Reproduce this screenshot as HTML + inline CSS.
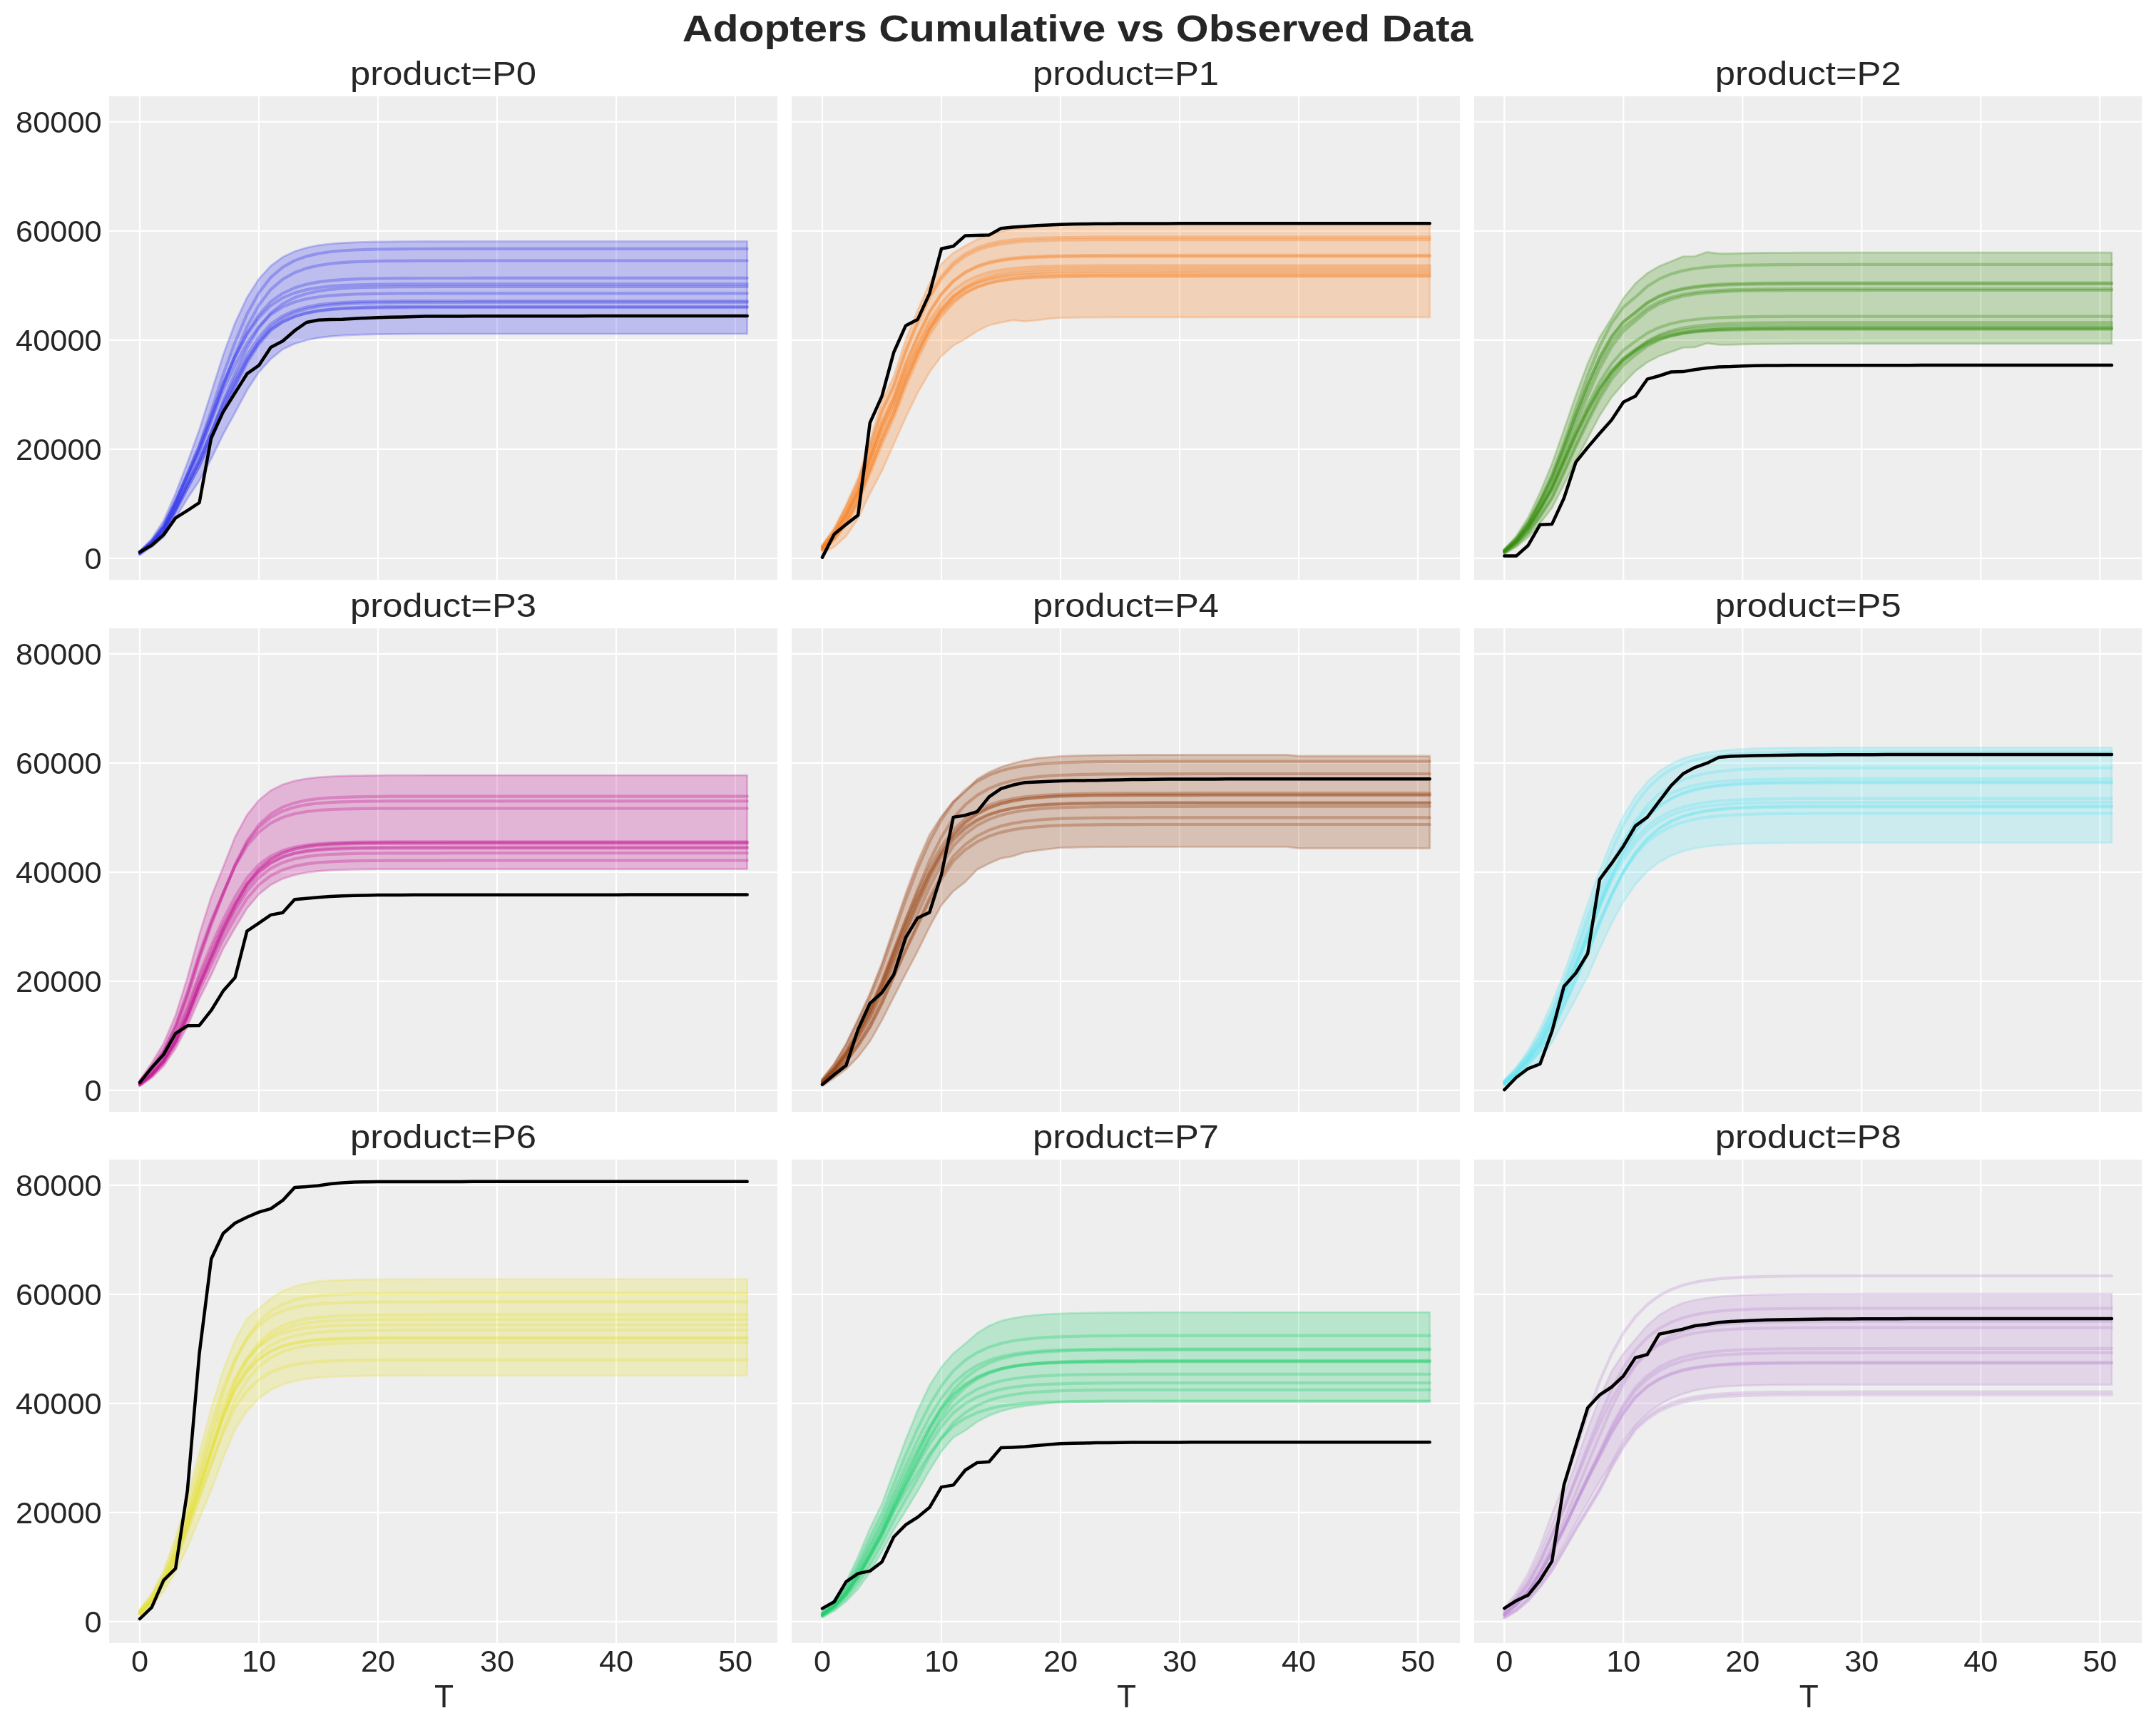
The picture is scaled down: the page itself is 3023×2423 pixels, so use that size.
<!DOCTYPE html>
<html lang="en">
<head>
<meta charset="utf-8">
<title>Adopters Cumulative vs Observed Data</title>
<style>
html,body{margin:0;padding:0;background:#ffffff;}
body{width:3023px;height:2423px;overflow:hidden;}
svg{display:block;}
text{font-family:"Liberation Sans",sans-serif;fill:#262626;}
.g{stroke:#ffffff;stroke-width:2.2;fill:none;}
.k{stroke:#000000;stroke-width:4.5;fill:none;stroke-linejoin:round;stroke-linecap:round;}
.s{fill:none;stroke-width:4.17;stroke-linejoin:round;stroke-linecap:round;}
.tk{font-size:42px;}
.tt{font-size:47.1px;}
.lb{font-size:44.3px;}
.st{font-size:51px;font-weight:bold;}
</style>
</head>
<body>
<svg width="3023" height="2423" viewBox="0 0 3023 2423">
<rect x="0" y="0" width="3023" height="2423" fill="#ffffff"/>
<!-- panel P0 -->
<svg x="153" y="135" width="937" height="678" viewBox="153 135 937 678">
<rect x="153" y="135" width="937" height="678" fill="#eeeeee"/>
<path class="g" d="M196 135V813M363 135V813M530 135V813M697 135V813M864 135V813M1031 135V813M153 782.9H1090M153 629.9H1090M153 476.9H1090M153 323.9H1090M153 170.9H1090"/>
<polygon points="196,772.4 212.7,755.6 229.4,730.1 246.1,692 262.8,648.7 279.5,602.6 296.2,550.1 312.9,498 329.6,452.9 346.3,417.3 363,391.1 379.7,372.8 396.4,360.5 413.1,352.5 429.8,347.3 446.5,344 463.2,341.9 479.9,340.6 496.6,339.8 513.3,339.3 530,339 546.7,338.8 563.4,338.6 580.1,338.6 596.8,338.5 613.5,338.5 630.2,338.5 646.9,338.5 663.6,338.4 680.3,338.4 697,338.4 713.7,338.4 730.4,338.4 747.1,338.4 763.8,338.4 780.5,338.4 797.2,338.4 813.9,338.4 830.6,338.4 847.3,338.4 864,338.4 880.7,338.4 897.4,338.4 914.1,338.4 930.8,338.4 947.5,338.4 964.2,338.4 980.9,338.4 997.6,338.4 1014.3,338.4 1031,338.4 1047.7,338.4 1047.7,468.1 1031,468.1 1014.3,468.1 997.6,468.1 980.9,468.1 964.2,468.1 947.5,468.1 930.8,468.1 914.1,468.1 897.4,468.1 880.7,468.1 864,468.1 847.3,468.1 830.6,468.1 813.9,468.1 797.2,468.1 780.5,468.1 763.8,468.1 747.1,468.1 730.4,468.1 713.7,468.1 697,468.1 680.3,468.1 663.6,468.1 646.9,468.1 630.2,468.1 613.5,468.2 596.8,468.2 580.1,468.2 563.4,468.3 546.7,468.5 530,468.7 513.3,469 496.6,469.5 479.9,470.3 463.2,471.7 446.5,473.7 429.8,477 413.1,482 396.4,489.7 379.7,503.3 363,521.7 346.3,547.3 329.6,578.6 312.9,609 296.2,643.3 279.5,674 262.8,698.9 246.1,726.6 229.4,753.1 212.7,766.9 196,778.1" fill="#2a2eec" fill-opacity="0.25" stroke="#2a2eec" stroke-opacity="0.25" stroke-width="2.8" stroke-linejoin="miter"/>
<g class="s" stroke="#2a2eec" stroke-opacity="0.3">
<polyline points="196,774.3 212.7,759.5 229.4,737.8 246.1,703.4 262.8,664.7 279.5,624.2 296.2,576.1 312.9,525.4 329.6,479.8 346.3,440.6 363,410.5 379.7,388.9 396.4,374.8 413.1,365.4 429.8,359.4 446.5,355.5 463.2,353 479.9,351.5 496.6,350.5 513.3,349.9 530,349.5 546.7,349.3 563.4,349.1 580.1,349 596.8,349 613.5,348.9 630.2,348.9 646.9,348.9 663.6,348.9 680.3,348.9 697,348.9 713.7,348.9 730.4,348.9 747.1,348.9 763.8,348.9 780.5,348.9 797.2,348.9 813.9,348.9 830.6,348.9 847.3,348.9 864,348.9 880.7,348.9 897.4,348.9 914.1,348.9 930.8,348.9 947.5,348.9 964.2,348.9 980.9,348.9 997.6,348.9 1014.3,348.9 1031,348.9 1047.7,348.9"/>
<polyline points="196,775.1 212.7,761.1 229.4,741.2 246.1,708.4 262.8,671.9 279.5,634.4 296.2,589.3 312.9,540.9 329.6,497.1 346.3,458.1 363,427.9 379.7,405.8 396.4,391.6 413.1,382.2 429.8,376.1 446.5,372.2 463.2,369.7 479.9,368.2 496.6,367.2 513.3,366.6 530,366.2 546.7,365.9 563.4,365.8 580.1,365.7 596.8,365.6 613.5,365.6 630.2,365.6 646.9,365.6 663.6,365.5 680.3,365.5 697,365.5 713.7,365.5 730.4,365.5 747.1,365.5 763.8,365.5 780.5,365.5 797.2,365.5 813.9,365.5 830.6,365.5 847.3,365.5 864,365.5 880.7,365.5 897.4,365.5 914.1,365.5 930.8,365.5 947.5,365.5 964.2,365.5 980.9,365.5 997.6,365.5 1014.3,365.5 1031,365.5 1047.7,365.5"/>
<polyline points="196,774.4 212.7,759.7 229.4,738.4 246.1,704.5 262.8,666.9 279.5,628.6 296.2,584.4 312.9,539.4 329.6,500.4 346.3,467 363,441.5 379.7,422.9 396.4,411.3 413.1,403.6 429.8,398.6 446.5,395.4 463.2,393.4 479.9,392.1 496.6,391.3 513.3,390.8 530,390.5 546.7,390.3 563.4,390.1 580.1,390.1 596.8,390 613.5,390 630.2,390 646.9,390 663.6,389.9 680.3,389.9 697,389.9 713.7,389.9 730.4,389.9 747.1,389.9 763.8,389.9 780.5,389.9 797.2,389.9 813.9,389.9 830.6,389.9 847.3,389.9 864,389.9 880.7,389.9 897.4,389.9 914.1,389.9 930.8,389.9 947.5,389.9 964.2,389.9 980.9,389.9 997.6,389.9 1014.3,389.9 1031,389.9 1047.7,389.9"/>
<polyline points="196,774.1 212.7,759 229.4,737 246.1,702.6 262.8,664.4 279.5,625.6 296.2,581.5 312.9,537.6 329.6,500.4 346.3,469.1 363,445.5 379.7,428.4 396.4,417.7 413.1,410.7 429.8,406.1 446.5,403.2 463.2,401.4 479.9,400.2 496.6,399.5 513.3,399 530,398.7 546.7,398.6 563.4,398.4 580.1,398.4 596.8,398.3 613.5,398.3 630.2,398.3 646.9,398.3 663.6,398.3 680.3,398.3 697,398.3 713.7,398.3 730.4,398.3 747.1,398.3 763.8,398.3 780.5,398.3 797.2,398.3 813.9,398.3 830.6,398.3 847.3,398.3 864,398.3 880.7,398.3 897.4,398.3 914.1,398.3 930.8,398.3 947.5,398.3 964.2,398.3 980.9,398.3 997.6,398.3 1014.3,398.3 1031,398.3 1047.7,398.3"/>
<polyline points="196,775.9 212.7,762.7 229.4,744.5 246.1,713.6 262.8,679.7 279.5,646 296.2,605.6 312.9,562.3 329.6,523.4 346.3,487.7 363,459.7 379.7,438.8 396.4,425.8 413.1,417.3 429.8,411.7 446.5,408.1 463.2,405.8 479.9,404.4 496.6,403.5 513.3,402.9 530,402.6 546.7,402.3 563.4,402.2 580.1,402.1 596.8,402.1 613.5,402 630.2,402 646.9,402 663.6,402 680.3,402 697,402 713.7,402 730.4,402 747.1,402 763.8,402 780.5,402 797.2,402 813.9,402 830.6,402 847.3,402 864,402 880.7,402 897.4,402 914.1,402 930.8,402 947.5,402 964.2,402 980.9,402 997.6,402 1014.3,402 1031,402 1047.7,402"/>
<polyline points="196,774.5 212.7,759.9 229.4,738.9 246.1,705.4 262.8,668.5 279.5,631.6 296.2,589.5 312.9,547.4 329.6,511.8 346.3,481.2 363,458 379.7,440.9 396.4,430.4 413.1,423.5 429.8,419.1 446.5,416.2 463.2,414.4 479.9,413.3 496.6,412.5 513.3,412.1 530,411.8 546.7,411.6 563.4,411.5 580.1,411.4 596.8,411.4 613.5,411.4 630.2,411.4 646.9,411.3 663.6,411.3 680.3,411.3 697,411.3 713.7,411.3 730.4,411.3 747.1,411.3 763.8,411.3 780.5,411.3 797.2,411.3 813.9,411.3 830.6,411.3 847.3,411.3 864,411.3 880.7,411.3 897.4,411.3 914.1,411.3 930.8,411.3 947.5,411.3 964.2,411.3 980.9,411.3 997.6,411.3 1014.3,411.3 1031,411.3 1047.7,411.3"/>
<polyline points="196,775.7 212.7,762.3 229.4,743.6 246.1,712.4 262.8,678.4 279.5,645.1 296.2,606.1 312.9,565.5 329.6,530.2 346.3,498.1 363,473 379.7,454.2 396.4,442.9 413.1,435.4 429.8,430.5 446.5,427.4 463.2,425.4 479.9,424.1 496.6,423.3 513.3,422.8 530,422.5 546.7,422.3 563.4,422.2 580.1,422.1 596.8,422.1 613.5,422 630.2,422 646.9,422 663.6,422 680.3,422 697,422 713.7,422 730.4,422 747.1,422 763.8,422 780.5,422 797.2,422 813.9,422 830.6,422 847.3,422 864,422 880.7,422 897.4,422 914.1,422 930.8,422 947.5,422 964.2,422 980.9,422 997.6,422 1014.3,422 1031,422 1047.7,422"/>
<polyline points="196,776.5 212.7,763.7 229.4,746.5 246.1,716.8 262.8,684.5 279.5,653.2 296.2,615.7 312.9,575.3 329.6,539.5 346.3,505.7 363,478.9 379.7,458.7 396.4,446.5 413.1,438.4 429.8,433.2 446.5,429.8 463.2,427.6 479.9,426.3 496.6,425.4 513.3,424.8 530,424.5 546.7,424.3 563.4,424.2 580.1,424.1 596.8,424 613.5,424 630.2,424 646.9,424 663.6,423.9 680.3,423.9 697,423.9 713.7,423.9 730.4,423.9 747.1,423.9 763.8,423.9 780.5,423.9 797.2,423.9 813.9,423.9 830.6,423.9 847.3,423.9 864,423.9 880.7,423.9 897.4,423.9 914.1,423.9 930.8,423.9 947.5,423.9 964.2,423.9 980.9,423.9 997.6,423.9 1014.3,423.9 1031,423.9 1047.7,423.9"/>
<polyline points="196,776.4 212.7,763.6 229.4,746.4 246.1,716.5 262.8,684.3 279.5,653.1 296.2,616.1 312.9,576.5 329.6,541.7 346.3,509 363,483 379.7,463.4 396.4,451.6 413.1,443.8 429.8,438.8 446.5,435.5 463.2,433.4 479.9,432.1 496.6,431.3 513.3,430.7 530,430.4 546.7,430.2 563.4,430.1 580.1,430 596.8,429.9 613.5,429.9 630.2,429.9 646.9,429.9 663.6,429.9 680.3,429.9 697,429.9 713.7,429.9 730.4,429.9 747.1,429.9 763.8,429.9 780.5,429.9 797.2,429.9 813.9,429.9 830.6,429.9 847.3,429.9 864,429.9 880.7,429.9 897.4,429.9 914.1,429.9 930.8,429.9 947.5,429.9 964.2,429.9 980.9,429.9 997.6,429.9 1014.3,429.9 1031,429.9 1047.7,429.9"/>
<polyline points="196,775.7 212.7,762.3 229.4,743.7 246.1,712.7 262.8,678.9 279.5,646.1 296.2,608 312.9,568.6 329.6,534.7 346.3,503.9 363,479.8 379.7,461.7 396.4,450.9 413.1,443.8 429.8,439.1 446.5,436.1 463.2,434.2 479.9,433 496.6,432.3 513.3,431.8 530,431.5 546.7,431.3 563.4,431.2 580.1,431.1 596.8,431.1 613.5,431 630.2,431 646.9,431 663.6,431 680.3,431 697,431 713.7,431 730.4,431 747.1,431 763.8,431 780.5,431 797.2,431 813.9,431 830.6,431 847.3,431 864,431 880.7,431 897.4,431 914.1,431 930.8,431 947.5,431 964.2,431 980.9,431 997.6,431 1014.3,431 1031,431 1047.7,431"/>
</g>
<polyline class="k" points="196,773.9 212.7,764.8 229.4,749.9 246.1,726.4 262.8,715.8 279.5,704.8 296.2,613.7 312.9,577.6 329.6,550.9 346.3,524.2 363,512.4 379.7,486.9 396.4,478.3 413.1,463.7 429.8,452 446.5,448.8 463.2,448.1 479.9,447.8 496.6,446.7 513.3,445.9 530,445.3 546.7,444.8 563.4,444.4 580.1,444 596.8,443.6 613.5,443.5 630.2,443.4 646.9,443.4 663.6,443.3 680.3,443.3 697,443.2 713.7,443.2 730.4,443.2 747.1,443.2 763.8,443.2 780.5,443.2 797.2,443.2 813.9,443.2 830.6,443.1 847.3,443.1 864,443.1 880.7,443.1 897.4,443.1 914.1,443.1 930.8,443.1 947.5,443.1 964.2,443.1 980.9,443.1 997.6,443.1 1014.3,443.1 1031,443.1 1047.7,443.1"/>
</svg>
<!-- panel P1 -->
<svg x="1110" y="135" width="937" height="678" viewBox="1110 135 937 678">
<rect x="1110" y="135" width="937" height="678" fill="#eeeeee"/>
<path class="g" d="M1153 135V813M1320 135V813M1487 135V813M1654 135V813M1821 135V813M1988 135V813M1110 782.9H2047M1110 629.9H2047M1110 476.9H2047M1110 323.9H2047M1110 170.9H2047"/>
<polygon points="1153,764.2 1169.7,740.6 1186.4,707.1 1203.1,670 1219.8,617.2 1236.5,562.7 1253.2,527.7 1269.9,476.6 1286.6,435.1 1303.3,397.5 1320,369.8 1336.7,354.5 1353.4,344.7 1370.1,335.5 1386.8,329.2 1403.5,324.4 1420.2,321.3 1436.9,319 1453.6,317.2 1470.3,315.9 1487,314.9 1503.7,314.7 1520.4,314.6 1537.1,314.5 1553.8,314.4 1570.5,314.4 1587.2,314.4 1603.9,314.4 1620.6,314.4 1637.3,314.3 1654,314.3 1670.7,314.3 1687.4,314.3 1704.1,314.3 1720.8,314.3 1737.5,314.3 1754.2,314.3 1770.9,314.3 1787.6,314.3 1804.3,314.3 1821,314.3 1837.7,314.3 1854.4,314.3 1871.1,314.3 1887.8,314.3 1904.5,314.3 1921.2,314.3 1937.9,314.3 1954.6,314.3 1971.3,314.3 1988,314.3 2004.7,314.3 2004.7,444.8 1988,444.8 1971.3,444.8 1954.6,444.8 1937.9,444.8 1921.2,444.8 1904.5,444.8 1887.8,444.8 1871.1,444.8 1854.4,444.8 1837.7,444.8 1821,444.8 1804.3,444.8 1787.6,444.8 1770.9,444.8 1754.2,444.8 1737.5,444.8 1720.8,444.8 1704.1,444.8 1687.4,444.9 1670.7,444.9 1654,444.9 1637.3,444.9 1620.6,444.9 1603.9,444.9 1587.2,444.9 1570.5,444.9 1553.8,445 1537.1,445.1 1520.4,445.2 1503.7,445.4 1487,445.7 1470.3,446.9 1453.6,449.2 1436.9,450.7 1420.2,448.9 1403.5,452.2 1386.8,456 1370.1,464.2 1353.4,475.4 1336.7,484.6 1320,499.2 1303.3,522 1286.6,551 1269.9,585.5 1253.2,623 1236.5,660.5 1219.8,692.1 1203.1,727 1186.4,751.9 1169.7,766.8 1153,776.3" fill="#fa7c17" fill-opacity="0.25" stroke="#fa7c17" stroke-opacity="0.25" stroke-width="2.8" stroke-linejoin="miter"/>
<g class="s" stroke="#fa7c17" stroke-opacity="0.3">
<polyline points="1153,765.7 1169.7,743.8 1186.4,712.5 1203.1,677 1219.8,626.4 1236.5,574.9 1253.2,539.7 1269.9,490.6 1286.6,450.2 1303.3,414.1 1320,387.3 1336.7,368.5 1353.4,355.8 1370.1,347.5 1386.8,342.1 1403.5,338.6 1420.2,336.4 1436.9,335 1453.6,334.1 1470.3,333.5 1487,333.2 1503.7,333 1520.4,332.8 1537.1,332.7 1553.8,332.7 1570.5,332.6 1587.2,332.6 1603.9,332.6 1620.6,332.6 1637.3,332.6 1654,332.6 1670.7,332.6 1687.4,332.6 1704.1,332.6 1720.8,332.6 1737.5,332.6 1754.2,332.6 1770.9,332.6 1787.6,332.6 1804.3,332.6 1821,332.6 1837.7,332.6 1854.4,332.6 1871.1,332.6 1887.8,332.6 1904.5,332.6 1921.2,332.6 1937.9,332.6 1954.6,332.6 1971.3,332.6 1988,332.6 2004.7,332.6"/>
<polyline points="1153,766.1 1169.7,744.6 1186.4,714 1203.1,678.9 1219.8,628.8 1236.5,578 1253.2,542.7 1269.9,493.9 1286.6,453.7 1303.3,417.6 1320,390.9 1336.7,372.2 1353.4,359.5 1370.1,351.1 1386.8,345.6 1403.5,342.1 1420.2,339.9 1436.9,338.5 1453.6,337.6 1470.3,337 1487,336.7 1503.7,336.4 1520.4,336.3 1537.1,336.2 1553.8,336.2 1570.5,336.1 1587.2,336.1 1603.9,336.1 1620.6,336.1 1637.3,336.1 1654,336.1 1670.7,336.1 1687.4,336.1 1704.1,336.1 1720.8,336.1 1737.5,336.1 1754.2,336.1 1770.9,336.1 1787.6,336.1 1804.3,336.1 1821,336.1 1837.7,336.1 1854.4,336.1 1871.1,336.1 1887.8,336.1 1904.5,336.1 1921.2,336.1 1937.9,336.1 1954.6,336.1 1971.3,336.1 1988,336.1 2004.7,336.1"/>
<polyline points="1153,767.9 1169.7,748.6 1186.4,720.9 1203.1,687.6 1219.8,640.3 1236.5,593.2 1253.2,557.6 1269.9,511.1 1286.6,472.2 1303.3,437.8 1320,412.1 1336.7,393.8 1353.4,381.4 1370.1,373.1 1386.8,367.6 1403.5,364.1 1420.2,361.9 1436.9,360.4 1453.6,359.5 1470.3,358.9 1487,358.5 1503.7,358.3 1520.4,358.1 1537.1,358 1553.8,358 1570.5,357.9 1587.2,357.9 1603.9,357.9 1620.6,357.9 1637.3,357.9 1654,357.9 1670.7,357.9 1687.4,357.9 1704.1,357.9 1720.8,357.9 1737.5,357.9 1754.2,357.9 1770.9,357.9 1787.6,357.9 1804.3,357.9 1821,357.9 1837.7,357.9 1854.4,357.9 1871.1,357.9 1887.8,357.9 1904.5,357.9 1921.2,357.9 1937.9,357.9 1954.6,357.9 1971.3,357.9 1988,357.9 2004.7,357.9"/>
<polyline points="1153,767.7 1169.7,748.1 1186.4,719.9 1203.1,686.4 1219.8,638.9 1236.5,591.6 1253.2,556.3 1269.9,510.1 1286.6,471.7 1303.3,437.7 1320,412.5 1336.7,394.6 1353.4,382.4 1370.1,374.3 1386.8,369 1403.5,365.5 1420.2,363.3 1436.9,361.9 1453.6,361 1470.3,360.4 1487,360 1503.7,359.8 1520.4,359.7 1537.1,359.6 1553.8,359.5 1570.5,359.5 1587.2,359.4 1603.9,359.4 1620.6,359.4 1637.3,359.4 1654,359.4 1670.7,359.4 1687.4,359.4 1704.1,359.4 1720.8,359.4 1737.5,359.4 1754.2,359.4 1770.9,359.4 1787.6,359.4 1804.3,359.4 1821,359.4 1837.7,359.4 1854.4,359.4 1871.1,359.4 1887.8,359.4 1904.5,359.4 1921.2,359.4 1937.9,359.4 1954.6,359.4 1971.3,359.4 1988,359.4 2004.7,359.4"/>
<polyline points="1153,768.6 1169.7,750.2 1186.4,723.5 1203.1,691 1219.8,645.1 1236.5,599.8 1253.2,564.5 1269.9,519.7 1286.6,482.2 1303.3,449.3 1320,424.8 1336.7,407.3 1353.4,395.4 1370.1,387.4 1386.8,382.1 1403.5,378.7 1420.2,376.5 1436.9,375 1453.6,374.1 1470.3,373.6 1487,373.2 1503.7,372.9 1520.4,372.8 1537.1,372.7 1553.8,372.6 1570.5,372.6 1587.2,372.6 1603.9,372.5 1620.6,372.5 1637.3,372.5 1654,372.5 1670.7,372.5 1687.4,372.5 1704.1,372.5 1720.8,372.5 1737.5,372.5 1754.2,372.5 1770.9,372.5 1787.6,372.5 1804.3,372.5 1821,372.5 1837.7,372.5 1854.4,372.5 1871.1,372.5 1887.8,372.5 1904.5,372.5 1921.2,372.5 1937.9,372.5 1954.6,372.5 1971.3,372.5 1988,372.5 2004.7,372.5"/>
<polyline points="1153,770.9 1169.7,755 1186.4,731.8 1203.1,701.3 1219.8,658 1236.5,615.4 1253.2,578.4 1269.9,533.4 1286.6,494.5 1303.3,460.1 1320,433.8 1336.7,414.8 1353.4,401.7 1370.1,392.8 1386.8,387 1403.5,383.1 1420.2,380.7 1436.9,379.1 1453.6,378 1470.3,377.4 1487,377 1503.7,376.7 1520.4,376.5 1537.1,376.4 1553.8,376.3 1570.5,376.3 1587.2,376.3 1603.9,376.3 1620.6,376.2 1637.3,376.2 1654,376.2 1670.7,376.2 1687.4,376.2 1704.1,376.2 1720.8,376.2 1737.5,376.2 1754.2,376.2 1770.9,376.2 1787.6,376.2 1804.3,376.2 1821,376.2 1837.7,376.2 1854.4,376.2 1871.1,376.2 1887.8,376.2 1904.5,376.2 1921.2,376.2 1937.9,376.2 1954.6,376.2 1971.3,376.2 1988,376.2 2004.7,376.2"/>
<polyline points="1153,770.9 1169.7,755.1 1186.4,731.9 1203.1,701.6 1219.8,658.4 1236.5,616.1 1253.2,579.3 1269.9,534.8 1286.6,496.3 1303.3,462.3 1320,436.5 1336.7,417.8 1353.4,404.9 1370.1,396.1 1386.8,390.4 1403.5,386.6 1420.2,384.2 1436.9,382.6 1453.6,381.6 1470.3,380.9 1487,380.5 1503.7,380.2 1520.4,380.1 1537.1,379.9 1553.8,379.9 1570.5,379.8 1587.2,379.8 1603.9,379.8 1620.6,379.8 1637.3,379.8 1654,379.8 1670.7,379.8 1687.4,379.7 1704.1,379.7 1720.8,379.7 1737.5,379.7 1754.2,379.7 1770.9,379.7 1787.6,379.7 1804.3,379.7 1821,379.7 1837.7,379.7 1854.4,379.7 1871.1,379.7 1887.8,379.7 1904.5,379.7 1921.2,379.7 1937.9,379.7 1954.6,379.7 1971.3,379.7 1988,379.7 2004.7,379.7"/>
<polyline points="1153,768.4 1169.7,749.7 1186.4,722.7 1203.1,690.1 1219.8,644.3 1236.5,599.5 1253.2,565 1269.9,521.7 1286.6,485.7 1303.3,454.7 1320,431.7 1336.7,415.5 1353.4,404.4 1370.1,396.9 1386.8,392 1403.5,388.8 1420.2,386.7 1436.9,385.3 1453.6,384.5 1470.3,383.9 1487,383.6 1503.7,383.3 1520.4,383.2 1537.1,383.1 1553.8,383 1570.5,383 1587.2,383 1603.9,383 1620.6,383 1637.3,382.9 1654,382.9 1670.7,382.9 1687.4,382.9 1704.1,382.9 1720.8,382.9 1737.5,382.9 1754.2,382.9 1770.9,382.9 1787.6,382.9 1804.3,382.9 1821,382.9 1837.7,382.9 1854.4,382.9 1871.1,382.9 1887.8,382.9 1904.5,382.9 1921.2,382.9 1937.9,382.9 1954.6,382.9 1971.3,382.9 1988,382.9 2004.7,382.9"/>
<polyline points="1153,771.8 1169.7,757 1186.4,735.1 1203.1,705.5 1219.8,663.5 1236.5,622.6 1253.2,585.4 1269.9,541.4 1286.6,503 1303.3,469.2 1320,443.3 1336.7,424.5 1353.4,411.4 1370.1,402.6 1386.8,396.7 1403.5,392.9 1420.2,390.4 1436.9,388.7 1453.6,387.7 1470.3,387 1487,386.6 1503.7,386.3 1520.4,386.1 1537.1,386 1553.8,386 1570.5,385.9 1587.2,385.9 1603.9,385.9 1620.6,385.8 1637.3,385.8 1654,385.8 1670.7,385.8 1687.4,385.8 1704.1,385.8 1720.8,385.8 1737.5,385.8 1754.2,385.8 1770.9,385.8 1787.6,385.8 1804.3,385.8 1821,385.8 1837.7,385.8 1854.4,385.8 1871.1,385.8 1887.8,385.8 1904.5,385.8 1921.2,385.8 1937.9,385.8 1954.6,385.8 1971.3,385.8 1988,385.8 2004.7,385.8"/>
<polyline points="1153,769.5 1169.7,752 1186.4,726.7 1203.1,695.1 1219.8,650.7 1236.5,607.4 1253.2,572.3 1269.9,529.2 1286.6,493 1303.3,461.6 1320,438.2 1336.7,421.4 1353.4,409.9 1370.1,402.2 1386.8,397 1403.5,393.7 1420.2,391.5 1436.9,390.1 1453.6,389.2 1470.3,388.6 1487,388.2 1503.7,388 1520.4,387.8 1537.1,387.7 1553.8,387.7 1570.5,387.6 1587.2,387.6 1603.9,387.6 1620.6,387.6 1637.3,387.6 1654,387.6 1670.7,387.6 1687.4,387.6 1704.1,387.6 1720.8,387.6 1737.5,387.6 1754.2,387.6 1770.9,387.6 1787.6,387.6 1804.3,387.6 1821,387.6 1837.7,387.6 1854.4,387.6 1871.1,387.6 1887.8,387.6 1904.5,387.6 1921.2,387.6 1937.9,387.6 1954.6,387.6 1971.3,387.6 1988,387.6 2004.7,387.6"/>
</g>
<polyline class="k" points="1153,781.6 1169.7,749 1186.4,735.3 1203.1,722.4 1219.8,592.9 1236.5,555.6 1253.2,494 1269.9,456.7 1286.6,448.1 1303.3,411.6 1320,348.8 1336.7,345.3 1353.4,330.4 1370.1,330 1386.8,329.6 1403.5,320.2 1420.2,318.6 1436.9,317.4 1453.6,316.2 1470.3,315.5 1487,314.7 1503.7,314.3 1520.4,314 1537.1,313.8 1553.8,313.7 1570.5,313.6 1587.2,313.5 1603.9,313.5 1620.6,313.4 1637.3,313.4 1654,313.3 1670.7,313.3 1687.4,313.3 1704.1,313.3 1720.8,313.3 1737.5,313.3 1754.2,313.3 1770.9,313.3 1787.6,313.3 1804.3,313.3 1821,313.3 1837.7,313.3 1854.4,313.3 1871.1,313.3 1887.8,313.3 1904.5,313.3 1921.2,313.3 1937.9,313.3 1954.6,313.3 1971.3,313.3 1988,313.3 2004.7,313.3"/>
</svg>
<!-- panel P2 -->
<svg x="2067" y="135" width="936.5" height="678" viewBox="2067 135 936.5 678">
<rect x="2067" y="135" width="936.5" height="678" fill="#eeeeee"/>
<path class="g" d="M2109.3 135V813M2276.3 135V813M2443.3 135V813M2610.3 135V813M2777.3 135V813M2944.3 135V813M2067 782.9H3003.5M2067 629.9H3003.5M2067 476.9H3003.5M2067 323.9H3003.5M2067 170.9H3003.5"/>
<polygon points="2109.3,769.8 2126,751.6 2142.7,725.6 2159.4,690.5 2176.1,650.3 2192.8,602.8 2209.5,554.4 2226.2,509.6 2242.9,472.8 2259.6,446.2 2276.3,418.1 2293,397.5 2309.7,383.1 2326.4,373.2 2343.1,366.6 2359.8,359.6 2376.5,359.4 2393.2,353.5 2409.9,355.5 2426.6,355.5 2443.3,355 2460,354.7 2476.7,354.5 2493.4,354.4 2510.1,354.3 2526.8,354.2 2543.5,354.2 2560.2,354.2 2576.9,354.1 2593.6,354.1 2610.3,354.1 2627,354.1 2643.7,354.1 2660.4,354.1 2677.1,354.1 2693.8,354.1 2710.5,354.1 2727.2,354.1 2743.9,354.1 2760.6,354.1 2777.3,354.1 2794,354.1 2810.7,354.1 2827.4,354.1 2844.1,354.1 2860.8,354.1 2877.5,354.1 2894.2,354.1 2910.9,354.1 2927.6,354.1 2944.3,354.1 2961,354.1 2961,482 2944.3,482 2927.6,482 2910.9,482 2894.2,482 2877.5,482 2860.8,482 2844.1,482 2827.4,482 2810.7,482 2794,482 2777.3,482 2760.6,482 2743.9,482 2727.2,482 2710.5,482 2693.8,482 2677.1,482 2660.4,482 2643.7,482 2627,482 2610.3,482 2593.6,482 2576.9,482.1 2560.2,482.1 2543.5,482.1 2526.8,482.1 2510.1,482.2 2493.4,482.3 2476.7,482.4 2460,482.6 2443.3,482.9 2426.6,483.4 2409.9,483.4 2393.2,481.4 2376.5,486.9 2359.8,487.4 2343.1,493.4 2326.4,499.3 2309.7,508 2293,520.4 2276.3,537.7 2259.6,557.1 2242.9,582.9 2226.2,614.6 2209.5,646 2192.8,679.7 2176.1,712.3 2159.4,733.6 2142.7,753.1 2126,767 2109.3,776.8" fill="#328c06" fill-opacity="0.25" stroke="#328c06" stroke-opacity="0.25" stroke-width="2.8" stroke-linejoin="miter"/>
<g class="s" stroke="#328c06" stroke-opacity="0.3">
<polyline points="2109.3,771.5 2126,755.4 2142.7,732.3 2159.4,700.9 2176.1,665 2192.8,620.4 2209.5,572.6 2226.2,526.6 2242.9,485.6 2259.6,453.3 2276.3,430.7 2293,416.7 2309.7,401.6 2326.4,391.2 2343.1,384.2 2359.8,379.6 2376.5,376.5 2393.2,374.6 2409.9,373.3 2426.6,372.4 2443.3,371.9 2460,371.6 2476.7,371.3 2493.4,371.2 2510.1,371.1 2526.8,371 2543.5,371 2560.2,371 2576.9,371 2593.6,370.9 2610.3,370.9 2627,370.9 2643.7,370.9 2660.4,370.9 2677.1,370.9 2693.8,370.9 2710.5,370.9 2727.2,370.9 2743.9,370.9 2760.6,370.9 2777.3,370.9 2794,370.9 2810.7,370.9 2827.4,370.9 2844.1,370.9 2860.8,370.9 2877.5,370.9 2894.2,370.9 2910.9,370.9 2927.6,370.9 2944.3,370.9 2961,370.9"/>
<polyline points="2109.3,772 2126,756.5 2142.7,734.3 2159.4,704.2 2176.1,670 2192.8,627.3 2209.5,582.2 2226.2,539.7 2242.9,501.9 2259.6,472.2 2276.3,451.1 2293,437.9 2309.7,424.2 2326.4,414.9 2343.1,408.6 2359.8,404.4 2376.5,401.7 2393.2,399.9 2409.9,398.7 2426.6,397.9 2443.3,397.5 2460,397.1 2476.7,396.9 2493.4,396.8 2510.1,396.7 2526.8,396.7 2543.5,396.6 2560.2,396.6 2576.9,396.6 2593.6,396.6 2610.3,396.6 2627,396.6 2643.7,396.6 2660.4,396.6 2677.1,396.6 2693.8,396.6 2710.5,396.6 2727.2,396.6 2743.9,396.6 2760.6,396.6 2777.3,396.6 2794,396.6 2810.7,396.6 2827.4,396.6 2844.1,396.6 2860.8,396.6 2877.5,396.6 2894.2,396.6 2910.9,396.6 2927.6,396.6 2944.3,396.6 2961,396.6"/>
<polyline points="2109.3,771.8 2126,756.2 2142.7,733.7 2159.4,703.3 2176.1,668.8 2192.8,626 2209.5,581 2226.2,538.6 2242.9,501.3 2259.6,472.1 2276.3,451.4 2293,438.5 2309.7,425.1 2326.4,416 2343.1,409.8 2359.8,405.7 2376.5,403.1 2393.2,401.3 2409.9,400.2 2426.6,399.4 2443.3,399 2460,398.7 2476.7,398.5 2493.4,398.3 2510.1,398.3 2526.8,398.2 2543.5,398.2 2560.2,398.1 2576.9,398.1 2593.6,398.1 2610.3,398.1 2627,398.1 2643.7,398.1 2660.4,398.1 2677.1,398.1 2693.8,398.1 2710.5,398.1 2727.2,398.1 2743.9,398.1 2760.6,398.1 2777.3,398.1 2794,398.1 2810.7,398.1 2827.4,398.1 2844.1,398.1 2860.8,398.1 2877.5,398.1 2894.2,398.1 2910.9,398.1 2927.6,398.1 2944.3,398.1 2961,398.1"/>
<polyline points="2109.3,772.3 2126,757.2 2142.7,735.6 2159.4,706.2 2176.1,673 2192.8,631.2 2209.5,587.1 2226.2,545.7 2242.9,508.7 2259.6,479.5 2276.3,458.8 2293,445.6 2309.7,432.2 2326.4,423 2343.1,416.8 2359.8,412.7 2376.5,410 2393.2,408.3 2409.9,407.2 2426.6,406.4 2443.3,405.9 2460,405.6 2476.7,405.4 2493.4,405.3 2510.1,405.2 2526.8,405.2 2543.5,405.1 2560.2,405.1 2576.9,405.1 2593.6,405.1 2610.3,405.1 2627,405.1 2643.7,405.1 2660.4,405.1 2677.1,405.1 2693.8,405.1 2710.5,405.1 2727.2,405.1 2743.9,405.1 2760.6,405.1 2777.3,405.1 2794,405.1 2810.7,405.1 2827.4,405.1 2844.1,405.1 2860.8,405.1 2877.5,405.1 2894.2,405.1 2910.9,405.1 2927.6,405.1 2944.3,405.1 2961,405.1"/>
<polyline points="2109.3,773.2 2126,759.1 2142.7,739 2159.4,711.4 2176.1,680.1 2192.8,639.4 2209.5,596.2 2226.2,554.9 2242.9,517 2259.6,486.5 2276.3,464.5 2293,450.3 2309.7,436.1 2326.4,426.3 2343.1,419.7 2359.8,415.3 2376.5,412.4 2393.2,410.5 2409.9,409.3 2426.6,408.5 2443.3,408 2460,407.6 2476.7,407.4 2493.4,407.3 2510.1,407.2 2526.8,407.1 2543.5,407.1 2560.2,407.1 2576.9,407.1 2593.6,407.1 2610.3,407.1 2627,407 2643.7,407 2660.4,407 2677.1,407 2693.8,407 2710.5,407 2727.2,407 2743.9,407 2760.6,407 2777.3,407 2794,407 2810.7,407 2827.4,407 2844.1,407 2860.8,407 2877.5,407 2894.2,407 2910.9,407 2927.6,407 2944.3,407 2961,407"/>
<polyline points="2109.3,773.4 2126,759.6 2142.7,739.9 2159.4,713.1 2176.1,683.3 2192.8,644.7 2209.5,605 2226.2,568.7 2242.9,536 2259.6,510.1 2276.3,491.2 2293,478.7 2309.7,467.1 2326.4,459.2 2343.1,453.8 2359.8,450.3 2376.5,448 2393.2,446.4 2409.9,445.4 2426.6,444.8 2443.3,444.4 2460,444.1 2476.7,443.9 2493.4,443.8 2510.1,443.7 2526.8,443.7 2543.5,443.7 2560.2,443.7 2576.9,443.6 2593.6,443.6 2610.3,443.6 2627,443.6 2643.7,443.6 2660.4,443.6 2677.1,443.6 2693.8,443.6 2710.5,443.6 2727.2,443.6 2743.9,443.6 2760.6,443.6 2777.3,443.6 2794,443.6 2810.7,443.6 2827.4,443.6 2844.1,443.6 2860.8,443.6 2877.5,443.6 2894.2,443.6 2910.9,443.6 2927.6,443.6 2944.3,443.6 2961,443.6"/>
<polyline points="2109.3,775 2126,763.1 2142.7,746.2 2159.4,722.8 2176.1,696.8 2192.8,660.6 2209.5,622.9 2226.2,587.6 2242.9,553.9 2259.6,526.2 2276.3,505.5 2293,491.4 2309.7,478.6 2326.4,469.8 2343.1,463.8 2359.8,459.8 2376.5,457.2 2393.2,455.5 2409.9,454.4 2426.6,453.6 2443.3,453.2 2460,452.9 2476.7,452.7 2493.4,452.5 2510.1,452.4 2526.8,452.4 2543.5,452.4 2560.2,452.3 2576.9,452.3 2593.6,452.3 2610.3,452.3 2627,452.3 2643.7,452.3 2660.4,452.3 2677.1,452.3 2693.8,452.3 2710.5,452.3 2727.2,452.3 2743.9,452.3 2760.6,452.3 2777.3,452.3 2794,452.3 2810.7,452.3 2827.4,452.3 2844.1,452.3 2860.8,452.3 2877.5,452.3 2894.2,452.3 2910.9,452.3 2927.6,452.3 2944.3,452.3 2961,452.3"/>
<polyline points="2109.3,773.8 2126,760.5 2142.7,741.5 2159.4,715.7 2176.1,687 2192.8,649.6 2209.5,611.5 2226.2,576.8 2242.9,545.5 2259.6,520.6 2276.3,502.4 2293,490 2309.7,479 2326.4,471.4 2343.1,466.3 2359.8,462.9 2376.5,460.7 2393.2,459.3 2409.9,458.3 2426.6,457.7 2443.3,457.3 2460,457.1 2476.7,456.9 2493.4,456.8 2510.1,456.7 2526.8,456.7 2543.5,456.6 2560.2,456.6 2576.9,456.6 2593.6,456.6 2610.3,456.6 2627,456.6 2643.7,456.6 2660.4,456.6 2677.1,456.6 2693.8,456.6 2710.5,456.6 2727.2,456.6 2743.9,456.6 2760.6,456.6 2777.3,456.6 2794,456.6 2810.7,456.6 2827.4,456.6 2844.1,456.6 2860.8,456.6 2877.5,456.6 2894.2,456.6 2910.9,456.6 2927.6,456.6 2944.3,456.6 2961,456.6"/>
<polyline points="2109.3,775.3 2126,763.6 2142.7,747.1 2159.4,724.3 2176.1,698.9 2192.8,663.4 2209.5,626.5 2226.2,592.2 2242.9,559.3 2259.6,532.2 2276.3,511.8 2293,497.8 2309.7,485.4 2326.4,476.7 2343.1,470.9 2359.8,467 2376.5,464.5 2393.2,462.8 2409.9,461.7 2426.6,461 2443.3,460.5 2460,460.2 2476.7,460 2493.4,459.9 2510.1,459.8 2526.8,459.8 2543.5,459.7 2560.2,459.7 2576.9,459.7 2593.6,459.7 2610.3,459.7 2627,459.7 2643.7,459.7 2660.4,459.7 2677.1,459.7 2693.8,459.7 2710.5,459.7 2727.2,459.7 2743.9,459.7 2760.6,459.7 2777.3,459.7 2794,459.7 2810.7,459.7 2827.4,459.7 2844.1,459.7 2860.8,459.7 2877.5,459.7 2894.2,459.7 2910.9,459.7 2927.6,459.7 2944.3,459.7 2961,459.7"/>
<polyline points="2109.3,773.4 2126,759.5 2142.7,739.8 2159.4,713.1 2176.1,683.5 2192.8,645.7 2209.5,607.6 2226.2,573.6 2242.9,543.5 2259.6,520 2276.3,502.9 2293,491.4 2309.7,481.2 2326.4,474.2 2343.1,469.5 2359.8,466.4 2376.5,464.4 2393.2,463.1 2409.9,462.2 2426.6,461.7 2443.3,461.3 2460,461.1 2476.7,460.9 2493.4,460.8 2510.1,460.7 2526.8,460.7 2543.5,460.7 2560.2,460.7 2576.9,460.6 2593.6,460.6 2610.3,460.6 2627,460.6 2643.7,460.6 2660.4,460.6 2677.1,460.6 2693.8,460.6 2710.5,460.6 2727.2,460.6 2743.9,460.6 2760.6,460.6 2777.3,460.6 2794,460.6 2810.7,460.6 2827.4,460.6 2844.1,460.6 2860.8,460.6 2877.5,460.6 2894.2,460.6 2910.9,460.6 2927.6,460.6 2944.3,460.6 2961,460.6"/>
<polyline points="2109.3,773.7 2126,760.2 2142.7,741 2159.4,715 2176.1,686.1 2192.8,648.8 2209.5,611 2226.2,577.1 2242.9,546.7 2259.6,522.7 2276.3,505.2 2293,493.3 2309.7,482.8 2326.4,475.6 2343.1,470.8 2359.8,467.6 2376.5,465.5 2393.2,464.1 2409.9,463.2 2426.6,462.7 2443.3,462.3 2460,462 2476.7,461.9 2493.4,461.8 2510.1,461.7 2526.8,461.7 2543.5,461.7 2560.2,461.6 2576.9,461.6 2593.6,461.6 2610.3,461.6 2627,461.6 2643.7,461.6 2660.4,461.6 2677.1,461.6 2693.8,461.6 2710.5,461.6 2727.2,461.6 2743.9,461.6 2760.6,461.6 2777.3,461.6 2794,461.6 2810.7,461.6 2827.4,461.6 2844.1,461.6 2860.8,461.6 2877.5,461.6 2894.2,461.6 2910.9,461.6 2927.6,461.6 2944.3,461.6 2961,461.6"/>
</g>
<polyline class="k" points="2109.3,779.6 2126,779.6 2142.7,764.7 2159.4,735.7 2176.1,734.9 2192.8,698.8 2209.5,648.2 2226.2,627.4 2242.9,607.8 2259.6,589 2276.3,563.8 2293,555.6 2309.7,531.7 2326.4,527 2343.1,521.5 2359.8,521.1 2376.5,518.3 2393.2,516 2409.9,514.4 2426.6,514 2443.3,513.2 2460,512.8 2476.7,512.4 2493.4,512.4 2510.1,512.3 2526.8,512.3 2543.5,512.2 2560.2,512.2 2576.9,512.2 2593.6,512.2 2610.3,512.2 2627,512.2 2643.7,512.2 2660.4,512.2 2677.1,512.2 2693.8,512.1 2710.5,512.1 2727.2,512.1 2743.9,512.1 2760.6,512.1 2777.3,512.1 2794,512.1 2810.7,512.1 2827.4,512.1 2844.1,512.1 2860.8,512.1 2877.5,512.1 2894.2,512.1 2910.9,512.1 2927.6,512.1 2944.3,512.1 2961,512.1"/>
</svg>
<!-- panel P3 -->
<svg x="153" y="881" width="937" height="678" viewBox="153 881 937 678">
<rect x="153" y="881" width="937" height="678" fill="#eeeeee"/>
<path class="g" d="M196 881V1559M363 881V1559M530 881V1559M697 881V1559M864 881V1559M1031 881V1559M153 1528.9H1090M153 1375.9H1090M153 1222.9H1090M153 1069.9H1090M153 916.9H1090"/>
<polygon points="196,1514.3 212.7,1490.6 229.4,1463.1 246.1,1423.9 262.8,1370.7 279.5,1310.1 296.2,1257.5 312.9,1216.1 329.6,1173.6 346.3,1142.8 363,1121.9 379.7,1108.5 396.4,1100.1 413.1,1094.9 429.8,1091.8 446.5,1089.9 463.2,1088.8 479.9,1088.1 496.6,1087.7 513.3,1087.5 530,1087.3 546.7,1087.2 563.4,1087.2 580.1,1087.2 596.8,1087.1 613.5,1087.1 630.2,1087.1 646.9,1087.1 663.6,1087.1 680.3,1087.1 697,1087.1 713.7,1087.1 730.4,1087.1 747.1,1087.1 763.8,1087.1 780.5,1087.1 797.2,1087.1 813.9,1087.1 830.6,1087.1 847.3,1087.1 864,1087.1 880.7,1087.1 897.4,1087.1 914.1,1087.1 930.8,1087.1 947.5,1087.1 964.2,1087.1 980.9,1087.1 997.6,1087.1 1014.3,1087.1 1031,1087.1 1047.7,1087.1 1047.7,1218.5 1031,1218.5 1014.3,1218.5 997.6,1218.5 980.9,1218.5 964.2,1218.5 947.5,1218.5 930.8,1218.5 914.1,1218.5 897.4,1218.5 880.7,1218.5 864,1218.5 847.3,1218.5 830.6,1218.5 813.9,1218.5 797.2,1218.5 780.5,1218.5 763.8,1218.5 747.1,1218.5 730.4,1218.5 713.7,1218.5 697,1218.5 680.3,1218.5 663.6,1218.5 646.9,1218.5 630.2,1218.5 613.5,1218.5 596.8,1218.5 580.1,1218.5 563.4,1218.5 546.7,1218.6 530,1218.7 513.3,1218.9 496.6,1219.1 479.9,1219.6 463.2,1220.3 446.5,1221.5 429.8,1223.5 413.1,1226.8 396.4,1232.1 379.7,1240.7 363,1254 346.3,1273.7 329.6,1301.2 312.9,1330.4 296.2,1367.1 279.5,1400.7 262.8,1439.1 246.1,1470.6 229.4,1495 212.7,1511.5 196,1522.8" fill="#c10c90" fill-opacity="0.25" stroke="#c10c90" stroke-opacity="0.25" stroke-width="2.8" stroke-linejoin="miter"/>
<g class="s" stroke="#c10c90" stroke-opacity="0.3">
<polyline points="196,1517.9 212.7,1499.4 229.4,1476.5 246.1,1443.3 262.8,1398.3 279.5,1344.9 296.2,1296.9 312.9,1254.2 329.6,1212.7 346.3,1179.5 363,1156.4 379.7,1141.2 396.4,1131.6 413.1,1125.7 429.8,1122 446.5,1119.9 463.2,1118.5 479.9,1117.8 496.6,1117.3 513.3,1117 530,1116.8 546.7,1116.7 563.4,1116.7 580.1,1116.7 596.8,1116.6 613.5,1116.6 630.2,1116.6 646.9,1116.6 663.6,1116.6 680.3,1116.6 697,1116.6 713.7,1116.6 730.4,1116.6 747.1,1116.6 763.8,1116.6 780.5,1116.6 797.2,1116.6 813.9,1116.6 830.6,1116.6 847.3,1116.6 864,1116.6 880.7,1116.6 897.4,1116.6 914.1,1116.6 930.8,1116.6 947.5,1116.6 964.2,1116.6 980.9,1116.6 997.6,1116.6 1014.3,1116.6 1031,1116.6 1047.7,1116.6"/>
<polyline points="196,1517.3 212.7,1498 229.4,1474.4 246.1,1440.4 262.8,1394.5 279.5,1340.9 296.2,1293.7 312.9,1252.6 329.6,1213 346.3,1181.8 363,1160.3 379.7,1146.1 396.4,1137.2 413.1,1131.7 429.8,1128.4 446.5,1126.3 463.2,1125.1 479.9,1124.4 496.6,1124 513.3,1123.7 530,1123.5 546.7,1123.4 563.4,1123.4 580.1,1123.4 596.8,1123.3 613.5,1123.3 630.2,1123.3 646.9,1123.3 663.6,1123.3 680.3,1123.3 697,1123.3 713.7,1123.3 730.4,1123.3 747.1,1123.3 763.8,1123.3 780.5,1123.3 797.2,1123.3 813.9,1123.3 830.6,1123.3 847.3,1123.3 864,1123.3 880.7,1123.3 897.4,1123.3 914.1,1123.3 930.8,1123.3 947.5,1123.3 964.2,1123.3 980.9,1123.3 997.6,1123.3 1014.3,1123.3 1031,1123.3 1047.7,1123.3"/>
<polyline points="196,1516.7 212.7,1496.5 229.4,1472.1 246.1,1437.2 262.8,1390.5 279.5,1337 296.2,1290.9 312.9,1252 329.6,1215 346.3,1186.4 363,1166.8 379.7,1154.1 396.4,1146 413.1,1141.1 429.8,1138 446.5,1136.2 463.2,1135.1 479.9,1134.5 496.6,1134.1 513.3,1133.8 530,1133.7 546.7,1133.6 563.4,1133.6 580.1,1133.5 596.8,1133.5 613.5,1133.5 630.2,1133.5 646.9,1133.5 663.6,1133.5 680.3,1133.5 697,1133.5 713.7,1133.5 730.4,1133.5 747.1,1133.5 763.8,1133.5 780.5,1133.5 797.2,1133.5 813.9,1133.5 830.6,1133.5 847.3,1133.5 864,1133.5 880.7,1133.5 897.4,1133.5 914.1,1133.5 930.8,1133.5 947.5,1133.5 964.2,1133.5 980.9,1133.5 997.6,1133.5 1014.3,1133.5 1031,1133.5 1047.7,1133.5"/>
<polyline points="196,1519.3 212.7,1502.8 229.4,1481.8 246.1,1451.4 262.8,1411.5 279.5,1365.4 296.2,1325.9 312.9,1289.4 329.6,1257.6 346.3,1231 363,1212.5 379.7,1200.3 396.4,1192.6 413.1,1187.7 429.8,1184.8 446.5,1183 463.2,1181.9 479.9,1181.3 496.6,1180.9 513.3,1180.6 530,1180.5 546.7,1180.4 563.4,1180.4 580.1,1180.3 596.8,1180.3 613.5,1180.3 630.2,1180.3 646.9,1180.3 663.6,1180.3 680.3,1180.3 697,1180.3 713.7,1180.3 730.4,1180.3 747.1,1180.3 763.8,1180.3 780.5,1180.3 797.2,1180.3 813.9,1180.3 830.6,1180.3 847.3,1180.3 864,1180.3 880.7,1180.3 897.4,1180.3 914.1,1180.3 930.8,1180.3 947.5,1180.3 964.2,1180.3 980.9,1180.3 997.6,1180.3 1014.3,1180.3 1031,1180.3 1047.7,1180.3"/>
<polyline points="196,1521 212.7,1507.2 229.4,1488.4 246.1,1460.8 262.8,1424.4 279.5,1380.6 296.2,1341.8 312.9,1302.9 329.6,1269.2 346.3,1239.6 363,1218.6 379.7,1204.6 396.4,1195.6 413.1,1190 429.8,1186.6 446.5,1184.6 463.2,1183.3 479.9,1182.6 496.6,1182.1 513.3,1181.8 530,1181.7 546.7,1181.6 563.4,1181.5 580.1,1181.5 596.8,1181.5 613.5,1181.5 630.2,1181.4 646.9,1181.4 663.6,1181.4 680.3,1181.4 697,1181.4 713.7,1181.4 730.4,1181.4 747.1,1181.4 763.8,1181.4 780.5,1181.4 797.2,1181.4 813.9,1181.4 830.6,1181.4 847.3,1181.4 864,1181.4 880.7,1181.4 897.4,1181.4 914.1,1181.4 930.8,1181.4 947.5,1181.4 964.2,1181.4 980.9,1181.4 997.6,1181.4 1014.3,1181.4 1031,1181.4 1047.7,1181.4"/>
<polyline points="196,1520.7 212.7,1506.4 229.4,1487.1 246.1,1459 262.8,1422 279.5,1377.9 296.2,1339.1 312.9,1300.9 329.6,1267.7 346.3,1238.9 363,1218.5 379.7,1205 396.4,1196.3 413.1,1190.9 429.8,1187.6 446.5,1185.6 463.2,1184.4 479.9,1183.7 496.6,1183.2 513.3,1183 530,1182.8 546.7,1182.7 563.4,1182.7 580.1,1182.6 596.8,1182.6 613.5,1182.6 630.2,1182.6 646.9,1182.6 663.6,1182.6 680.3,1182.6 697,1182.6 713.7,1182.6 730.4,1182.6 747.1,1182.6 763.8,1182.6 780.5,1182.6 797.2,1182.6 813.9,1182.6 830.6,1182.6 847.3,1182.6 864,1182.6 880.7,1182.6 897.4,1182.6 914.1,1182.6 930.8,1182.6 947.5,1182.6 964.2,1182.6 980.9,1182.6 997.6,1182.6 1014.3,1182.6 1031,1182.6 1047.7,1182.6"/>
<polyline points="196,1521 212.7,1507.2 229.4,1488.4 246.1,1460.9 262.8,1424.8 279.5,1381.6 296.2,1343.6 312.9,1305.5 329.6,1272.9 346.3,1244.2 363,1223.9 379.7,1210.3 396.4,1201.6 413.1,1196.2 429.8,1192.9 446.5,1190.9 463.2,1189.7 479.9,1188.9 496.6,1188.5 513.3,1188.3 530,1188.1 546.7,1188 563.4,1187.9 580.1,1187.9 596.8,1187.9 613.5,1187.9 630.2,1187.9 646.9,1187.9 663.6,1187.9 680.3,1187.9 697,1187.9 713.7,1187.9 730.4,1187.9 747.1,1187.9 763.8,1187.9 780.5,1187.9 797.2,1187.9 813.9,1187.9 830.6,1187.9 847.3,1187.9 864,1187.9 880.7,1187.9 897.4,1187.9 914.1,1187.9 930.8,1187.9 947.5,1187.9 964.2,1187.9 980.9,1187.9 997.6,1187.9 1014.3,1187.9 1031,1187.9 1047.7,1187.9"/>
<polyline points="196,1519.8 212.7,1504.1 229.4,1483.7 246.1,1454.2 262.8,1415.7 279.5,1371 296.2,1332.8 312.9,1296.7 329.6,1265.9 346.3,1239.8 363,1221.5 379.7,1209.3 396.4,1201.6 413.1,1196.8 429.8,1193.9 446.5,1192.1 463.2,1191 479.9,1190.4 496.6,1190 513.3,1189.7 530,1189.6 546.7,1189.5 563.4,1189.5 580.1,1189.4 596.8,1189.4 613.5,1189.4 630.2,1189.4 646.9,1189.4 663.6,1189.4 680.3,1189.4 697,1189.4 713.7,1189.4 730.4,1189.4 747.1,1189.4 763.8,1189.4 780.5,1189.4 797.2,1189.4 813.9,1189.4 830.6,1189.4 847.3,1189.4 864,1189.4 880.7,1189.4 897.4,1189.4 914.1,1189.4 930.8,1189.4 947.5,1189.4 964.2,1189.4 980.9,1189.4 997.6,1189.4 1014.3,1189.4 1031,1189.4 1047.7,1189.4"/>
<polyline points="196,1521 212.7,1507.1 229.4,1488.3 246.1,1460.8 262.8,1424.9 279.5,1382.3 296.2,1345.4 312.9,1308.4 329.6,1277.4 346.3,1250 363,1230.6 379.7,1217.7 396.4,1209.4 413.1,1204.2 429.8,1201.1 446.5,1199.1 463.2,1198 479.9,1197.3 496.6,1196.9 513.3,1196.6 530,1196.5 546.7,1196.4 563.4,1196.3 580.1,1196.3 596.8,1196.3 613.5,1196.3 630.2,1196.2 646.9,1196.2 663.6,1196.2 680.3,1196.2 697,1196.2 713.7,1196.2 730.4,1196.2 747.1,1196.2 763.8,1196.2 780.5,1196.2 797.2,1196.2 813.9,1196.2 830.6,1196.2 847.3,1196.2 864,1196.2 880.7,1196.2 897.4,1196.2 914.1,1196.2 930.8,1196.2 947.5,1196.2 964.2,1196.2 980.9,1196.2 997.6,1196.2 1014.3,1196.2 1031,1196.2 1047.7,1196.2"/>
<polyline points="196,1521.6 212.7,1508.6 229.4,1490.5 246.1,1464.1 262.8,1429.8 279.5,1388.9 296.2,1353.4 312.9,1316.9 329.6,1286.9 346.3,1259.9 363,1240.7 379.7,1227.9 396.4,1219.7 413.1,1214.5 429.8,1211.4 446.5,1209.4 463.2,1208.3 479.9,1207.6 496.6,1207.2 513.3,1206.9 530,1206.8 546.7,1206.7 563.4,1206.6 580.1,1206.6 596.8,1206.6 613.5,1206.6 630.2,1206.5 646.9,1206.5 663.6,1206.5 680.3,1206.5 697,1206.5 713.7,1206.5 730.4,1206.5 747.1,1206.5 763.8,1206.5 780.5,1206.5 797.2,1206.5 813.9,1206.5 830.6,1206.5 847.3,1206.5 864,1206.5 880.7,1206.5 897.4,1206.5 914.1,1206.5 930.8,1206.5 947.5,1206.5 964.2,1206.5 980.9,1206.5 997.6,1206.5 1014.3,1206.5 1031,1206.5 1047.7,1206.5"/>
</g>
<polyline class="k" points="196,1517.9 212.7,1497.1 229.4,1478.7 246.1,1449.2 262.8,1438.3 279.5,1437.9 296.2,1416.7 312.9,1389.6 329.6,1370.8 346.3,1305.6 363,1294.3 379.7,1282.9 396.4,1279.7 413.1,1261.3 429.8,1259.7 446.5,1258.2 463.2,1257 479.9,1256.2 496.6,1255.8 513.3,1255.4 530,1255 546.7,1254.9 563.4,1254.9 580.1,1254.8 596.8,1254.8 613.5,1254.8 630.2,1254.7 646.9,1254.7 663.6,1254.7 680.3,1254.7 697,1254.7 713.7,1254.7 730.4,1254.7 747.1,1254.7 763.8,1254.7 780.5,1254.7 797.2,1254.7 813.9,1254.7 830.6,1254.7 847.3,1254.7 864,1254.7 880.7,1254.6 897.4,1254.6 914.1,1254.6 930.8,1254.6 947.5,1254.6 964.2,1254.6 980.9,1254.6 997.6,1254.6 1014.3,1254.6 1031,1254.6 1047.7,1254.6"/>
</svg>
<!-- panel P4 -->
<svg x="1110" y="881" width="937" height="678" viewBox="1110 881 937 678">
<rect x="1110" y="881" width="937" height="678" fill="#eeeeee"/>
<path class="g" d="M1153 881V1559M1320 881V1559M1487 881V1559M1654 881V1559M1821 881V1559M1988 881V1559M1110 1528.9H2047M1110 1375.9H2047M1110 1222.9H2047M1110 1069.9H2047M1110 916.9H2047"/>
<polygon points="1153,1513 1169.7,1491.5 1186.4,1463.4 1203.1,1428.5 1219.8,1392.5 1236.5,1350.3 1253.2,1301.1 1269.9,1252.6 1286.6,1208.3 1303.3,1170.4 1320,1144.6 1336.7,1123.6 1353.4,1110.2 1370.1,1092.4 1386.8,1082.8 1403.5,1075.6 1420.2,1070.3 1436.9,1066.3 1453.6,1063.2 1470.3,1061.9 1487,1060.3 1503.7,1059.7 1520.4,1059.3 1537.1,1059 1553.8,1058.8 1570.5,1058.7 1587.2,1058.6 1603.9,1058.5 1620.6,1058.5 1637.3,1058.5 1654,1058.5 1670.7,1058.4 1687.4,1058.4 1704.1,1058.4 1720.8,1058.4 1737.5,1058.4 1754.2,1058.4 1770.9,1058.4 1787.6,1058.4 1804.3,1058.4 1821,1060 1837.7,1060 1854.4,1060 1871.1,1060 1887.8,1060 1904.5,1060 1921.2,1060 1937.9,1060 1954.6,1060 1971.3,1060 1988,1060 2004.7,1060 2004.7,1189.6 1988,1189.6 1971.3,1189.6 1954.6,1189.6 1937.9,1189.6 1921.2,1189.6 1904.5,1189.6 1887.8,1189.6 1871.1,1189.6 1854.4,1189.6 1837.7,1189.6 1821,1189.6 1804.3,1187.3 1787.6,1187.3 1770.9,1187.3 1754.2,1187.3 1737.5,1187.3 1720.8,1187.3 1704.1,1187.3 1687.4,1187.3 1670.7,1187.3 1654,1187.3 1637.3,1187.4 1620.6,1187.4 1603.9,1187.4 1587.2,1187.4 1570.5,1187.5 1553.8,1187.6 1537.1,1187.7 1520.4,1187.9 1503.7,1188.3 1487,1188.7 1470.3,1190.6 1453.6,1192.6 1436.9,1195 1420.2,1200.6 1403.5,1203.5 1386.8,1210.8 1370.1,1219.2 1353.4,1236.6 1336.7,1249.7 1320,1269.3 1303.3,1299.9 1286.6,1333.8 1269.9,1365.7 1253.2,1397.9 1236.5,1430.9 1219.8,1460.3 1203.1,1482.2 1186.4,1499.2 1169.7,1511.6 1153,1522.9" fill="#933708" fill-opacity="0.25" stroke="#933708" stroke-opacity="0.25" stroke-width="2.8" stroke-linejoin="miter"/>
<g class="s" stroke="#933708" stroke-opacity="0.3">
<polyline points="1153,1513.8 1169.7,1493.3 1186.4,1466.5 1203.1,1433.1 1219.8,1398.3 1236.5,1357.1 1253.2,1309.1 1269.9,1261.8 1286.6,1218.1 1303.3,1180.1 1320,1149.3 1336.7,1125.4 1353.4,1108 1370.1,1095.6 1386.8,1086.8 1403.5,1080.7 1420.2,1076.5 1436.9,1073.7 1453.6,1071.7 1470.3,1070.4 1487,1069.5 1503.7,1068.9 1520.4,1068.5 1537.1,1068.2 1553.8,1068 1570.5,1067.9 1587.2,1067.8 1603.9,1067.8 1620.6,1067.7 1637.3,1067.7 1654,1067.7 1670.7,1067.7 1687.4,1067.7 1704.1,1067.7 1720.8,1067.7 1737.5,1067.7 1754.2,1067.7 1770.9,1067.7 1787.6,1067.7 1804.3,1067.7 1821,1067.7 1837.7,1067.7 1854.4,1067.7 1871.1,1067.7 1887.8,1067.7 1904.5,1067.7 1921.2,1067.7 1937.9,1067.7 1954.6,1067.7 1971.3,1067.7 1988,1067.7 2004.7,1067.7"/>
<polyline points="1153,1516.8 1169.7,1499.2 1186.4,1477.1 1203.1,1448.9 1219.8,1417.8 1236.5,1379.7 1253.2,1335 1269.9,1290.2 1286.6,1247.5 1303.3,1207.4 1320,1173.8 1336.7,1147.1 1353.4,1128.5 1370.1,1115.1 1386.8,1105.6 1403.5,1099 1420.2,1094.5 1436.9,1091.4 1453.6,1089.3 1470.3,1087.9 1487,1087 1503.7,1086.3 1520.4,1085.9 1537.1,1085.6 1553.8,1085.4 1570.5,1085.3 1587.2,1085.2 1603.9,1085.1 1620.6,1085.1 1637.3,1085.1 1654,1085.1 1670.7,1085 1687.4,1085 1704.1,1085 1720.8,1085 1737.5,1085 1754.2,1085 1770.9,1085 1787.6,1085 1804.3,1085 1821,1085 1837.7,1085 1854.4,1085 1871.1,1085 1887.8,1085 1904.5,1085 1921.2,1085 1937.9,1085 1954.6,1085 1971.3,1085 1988,1085 2004.7,1085"/>
<polyline points="1153,1515.9 1169.7,1497.4 1186.4,1474 1203.1,1444.6 1219.8,1413 1236.5,1375.1 1253.2,1331.8 1269.9,1289.7 1286.6,1251 1303.3,1215.9 1320,1186.7 1336.7,1163.6 1353.4,1148 1370.1,1136.8 1386.8,1129 1403.5,1123.5 1420.2,1119.9 1436.9,1117.4 1453.6,1115.7 1470.3,1114.5 1487,1113.8 1503.7,1113.3 1520.4,1112.9 1537.1,1112.7 1553.8,1112.5 1570.5,1112.4 1587.2,1112.4 1603.9,1112.3 1620.6,1112.3 1637.3,1112.3 1654,1112.2 1670.7,1112.2 1687.4,1112.2 1704.1,1112.2 1720.8,1112.2 1737.5,1112.2 1754.2,1112.2 1770.9,1112.2 1787.6,1112.2 1804.3,1112.2 1821,1112.2 1837.7,1112.2 1854.4,1112.2 1871.1,1112.2 1887.8,1112.2 1904.5,1112.2 1921.2,1112.2 1937.9,1112.2 1954.6,1112.2 1971.3,1112.2 1988,1112.2 2004.7,1112.2"/>
<polyline points="1153,1517.7 1169.7,1501.1 1186.4,1480.5 1203.1,1454.1 1219.8,1424.7 1236.5,1388.4 1253.2,1346.5 1269.9,1305.1 1286.6,1265.9 1303.3,1228.4 1320,1196.6 1336.7,1171 1353.4,1153.9 1370.1,1141.7 1386.8,1133 1403.5,1127.1 1420.2,1123 1436.9,1120.2 1453.6,1118.4 1470.3,1117.1 1487,1116.2 1503.7,1115.7 1520.4,1115.3 1537.1,1115 1553.8,1114.9 1570.5,1114.8 1587.2,1114.7 1603.9,1114.6 1620.6,1114.6 1637.3,1114.6 1654,1114.6 1670.7,1114.6 1687.4,1114.5 1704.1,1114.5 1720.8,1114.5 1737.5,1114.5 1754.2,1114.5 1770.9,1114.5 1787.6,1114.5 1804.3,1114.5 1821,1114.5 1837.7,1114.5 1854.4,1114.5 1871.1,1114.5 1887.8,1114.5 1904.5,1114.5 1921.2,1114.5 1937.9,1114.5 1954.6,1114.5 1971.3,1114.5 1988,1114.5 2004.7,1114.5"/>
<polyline points="1153,1516.9 1169.7,1499.5 1186.4,1477.7 1203.1,1449.9 1219.8,1419.6 1236.5,1382.7 1253.2,1340.2 1269.9,1298.7 1286.6,1259.9 1303.3,1223.6 1320,1193.2 1336.7,1168.8 1353.4,1152.5 1370.1,1140.8 1386.8,1132.6 1403.5,1126.9 1420.2,1123.1 1436.9,1120.4 1453.6,1118.7 1470.3,1117.5 1487,1116.7 1503.7,1116.1 1520.4,1115.8 1537.1,1115.5 1553.8,1115.4 1570.5,1115.3 1587.2,1115.2 1603.9,1115.1 1620.6,1115.1 1637.3,1115.1 1654,1115.1 1670.7,1115.1 1687.4,1115 1704.1,1115 1720.8,1115 1737.5,1115 1754.2,1115 1770.9,1115 1787.6,1115 1804.3,1115 1821,1115 1837.7,1115 1854.4,1115 1871.1,1115 1887.8,1115 1904.5,1115 1921.2,1115 1937.9,1115 1954.6,1115 1971.3,1115 1988,1115 2004.7,1115"/>
<polyline points="1153,1517.7 1169.7,1501.1 1186.4,1480.5 1203.1,1454.2 1219.8,1425 1236.5,1389.1 1253.2,1348 1269.9,1307.7 1286.6,1269.9 1303.3,1233.8 1320,1203.3 1336.7,1178.6 1353.4,1162.5 1370.1,1150.9 1386.8,1142.7 1403.5,1137.1 1420.2,1133.3 1436.9,1130.7 1453.6,1128.9 1470.3,1127.7 1487,1127 1503.7,1126.4 1520.4,1126.1 1537.1,1125.8 1553.8,1125.7 1570.5,1125.6 1587.2,1125.5 1603.9,1125.5 1620.6,1125.4 1637.3,1125.4 1654,1125.4 1670.7,1125.4 1687.4,1125.4 1704.1,1125.4 1720.8,1125.4 1737.5,1125.4 1754.2,1125.4 1770.9,1125.4 1787.6,1125.4 1804.3,1125.4 1821,1125.4 1837.7,1125.4 1854.4,1125.4 1871.1,1125.4 1887.8,1125.4 1904.5,1125.4 1921.2,1125.4 1937.9,1125.4 1954.6,1125.4 1971.3,1125.4 1988,1125.4 2004.7,1125.4"/>
<polyline points="1153,1516.2 1169.7,1498.1 1186.4,1475.2 1203.1,1446.3 1219.8,1415.4 1236.5,1378.3 1253.2,1336.2 1269.9,1295.7 1286.6,1258.7 1303.3,1224.9 1320,1196.9 1336.7,1174.4 1353.4,1159.6 1370.1,1149.1 1386.8,1141.7 1403.5,1136.7 1420.2,1133.2 1436.9,1130.9 1453.6,1129.3 1470.3,1128.3 1487,1127.6 1503.7,1127.1 1520.4,1126.8 1537.1,1126.6 1553.8,1126.4 1570.5,1126.3 1587.2,1126.3 1603.9,1126.2 1620.6,1126.2 1637.3,1126.2 1654,1126.2 1670.7,1126.1 1687.4,1126.1 1704.1,1126.1 1720.8,1126.1 1737.5,1126.1 1754.2,1126.1 1770.9,1126.1 1787.6,1126.1 1804.3,1126.1 1821,1126.1 1837.7,1126.1 1854.4,1126.1 1871.1,1126.1 1887.8,1126.1 1904.5,1126.1 1921.2,1126.1 1937.9,1126.1 1954.6,1126.1 1971.3,1126.1 1988,1126.1 2004.7,1126.1"/>
<polyline points="1153,1519 1169.7,1503.5 1186.4,1484.9 1203.1,1460.6 1219.8,1432.9 1236.5,1398.2 1253.2,1358.3 1269.9,1319 1286.6,1281.3 1303.3,1244.1 1320,1212.3 1336.7,1186.3 1353.4,1169.5 1370.1,1157.4 1386.8,1148.9 1403.5,1143 1420.2,1139 1436.9,1136.3 1453.6,1134.4 1470.3,1133.2 1487,1132.4 1503.7,1131.8 1520.4,1131.5 1537.1,1131.2 1553.8,1131.1 1570.5,1131 1587.2,1130.9 1603.9,1130.8 1620.6,1130.8 1637.3,1130.8 1654,1130.8 1670.7,1130.8 1687.4,1130.7 1704.1,1130.7 1720.8,1130.7 1737.5,1130.7 1754.2,1130.7 1770.9,1130.7 1787.6,1130.7 1804.3,1130.7 1821,1130.7 1837.7,1130.7 1854.4,1130.7 1871.1,1130.7 1887.8,1130.7 1904.5,1130.7 1921.2,1130.7 1937.9,1130.7 1954.6,1130.7 1971.3,1130.7 1988,1130.7 2004.7,1130.7"/>
<polyline points="1153,1520 1169.7,1505.7 1186.4,1488.7 1203.1,1466.3 1219.8,1440.2 1236.5,1406.9 1253.2,1368.8 1269.9,1331.4 1286.6,1295.3 1303.3,1258.7 1320,1226.9 1336.7,1200.7 1353.4,1184.2 1370.1,1172.3 1386.8,1164 1403.5,1158.3 1420.2,1154.4 1436.9,1151.7 1453.6,1149.9 1470.3,1148.7 1487,1147.9 1503.7,1147.4 1520.4,1147.1 1537.1,1146.8 1553.8,1146.7 1570.5,1146.6 1587.2,1146.5 1603.9,1146.4 1620.6,1146.4 1637.3,1146.4 1654,1146.4 1670.7,1146.4 1687.4,1146.4 1704.1,1146.4 1720.8,1146.4 1737.5,1146.4 1754.2,1146.4 1770.9,1146.4 1787.6,1146.4 1804.3,1146.4 1821,1146.4 1837.7,1146.4 1854.4,1146.4 1871.1,1146.4 1887.8,1146.4 1904.5,1146.4 1921.2,1146.4 1937.9,1146.4 1954.6,1146.4 1971.3,1146.4 1988,1146.4 2004.7,1146.4"/>
<polyline points="1153,1519.9 1169.7,1505.5 1186.4,1488.4 1203.1,1466 1219.8,1439.9 1236.5,1406.9 1253.2,1369.5 1269.9,1333.1 1286.6,1298.3 1303.3,1263.1 1320,1232.6 1336.7,1207.3 1353.4,1191.6 1370.1,1180.4 1386.8,1172.5 1403.5,1167.1 1420.2,1163.4 1436.9,1160.9 1453.6,1159.3 1470.3,1158.2 1487,1157.4 1503.7,1156.9 1520.4,1156.6 1537.1,1156.4 1553.8,1156.2 1570.5,1156.2 1587.2,1156.1 1603.9,1156 1620.6,1156 1637.3,1156 1654,1156 1670.7,1156 1687.4,1156 1704.1,1156 1720.8,1156 1737.5,1156 1754.2,1156 1770.9,1156 1787.6,1156 1804.3,1156 1821,1156 1837.7,1156 1854.4,1156 1871.1,1156 1887.8,1156 1904.5,1156 1921.2,1156 1937.9,1156 1954.6,1156 1971.3,1156 1988,1156 2004.7,1156"/>
</g>
<polyline class="k" points="1153,1520.7 1169.7,1506.9 1186.4,1494 1203.1,1443.4 1219.8,1406.9 1236.5,1392 1253.2,1366.5 1269.9,1314.7 1286.6,1287.2 1303.3,1279.4 1320,1226.4 1336.7,1145.9 1353.4,1143.2 1370.1,1138.1 1386.8,1117.3 1403.5,1105.9 1420.2,1100.8 1436.9,1097.3 1453.6,1096.5 1470.3,1095.7 1487,1094.9 1503.7,1094.6 1520.4,1094.4 1537.1,1094.2 1553.8,1093.7 1570.5,1093.4 1587.2,1093.1 1603.9,1092.9 1620.6,1092.8 1637.3,1092.6 1654,1092.5 1670.7,1092.5 1687.4,1092.4 1704.1,1092.4 1720.8,1092.3 1737.5,1092.3 1754.2,1092.3 1770.9,1092.3 1787.6,1092.2 1804.3,1092.2 1821,1092.2 1837.7,1092.2 1854.4,1092.2 1871.1,1092.2 1887.8,1092.2 1904.5,1092.2 1921.2,1092.2 1937.9,1092.2 1954.6,1092.2 1971.3,1092.2 1988,1092.2 2004.7,1092.2"/>
</svg>
<!-- panel P5 -->
<svg x="2067" y="881" width="936.5" height="678" viewBox="2067 881 936.5 678">
<rect x="2067" y="881" width="936.5" height="678" fill="#eeeeee"/>
<path class="g" d="M2109.3 881V1559M2276.3 881V1559M2443.3 881V1559M2610.3 881V1559M2777.3 881V1559M2944.3 881V1559M2067 1528.9H3003.5M2067 1375.9H3003.5M2067 1222.9H3003.5M2067 1069.9H3003.5M2067 916.9H3003.5"/>
<polygon points="2109.3,1514.4 2126,1496.3 2142.7,1472.7 2159.4,1442.4 2176.1,1406.1 2192.8,1365.2 2209.5,1316.6 2226.2,1267.3 2242.9,1221.1 2259.6,1178.8 2276.3,1143.8 2293,1116.5 2309.7,1096.1 2326.4,1081.3 2343.1,1070.9 2359.8,1063.6 2376.5,1058.6 2393.2,1055.2 2409.9,1052.9 2426.6,1051.3 2443.3,1050.3 2460,1049.5 2476.7,1049.1 2493.4,1048.7 2510.1,1048.5 2526.8,1048.4 2543.5,1048.3 2560.2,1048.2 2576.9,1048.2 2593.6,1048.2 2610.3,1048.1 2627,1048.1 2643.7,1048.1 2660.4,1048.1 2677.1,1048.1 2693.8,1048.1 2710.5,1048.1 2727.2,1048.1 2743.9,1048.1 2760.6,1048.1 2777.3,1048.1 2794,1048.1 2810.7,1048.1 2827.4,1048.1 2844.1,1048.1 2860.8,1048.1 2877.5,1048.1 2894.2,1048.1 2910.9,1048.1 2927.6,1048.1 2944.3,1048.1 2961,1048.1 2961,1181.7 2944.3,1181.7 2927.6,1181.7 2910.9,1181.7 2894.2,1181.7 2877.5,1181.7 2860.8,1181.7 2844.1,1181.7 2827.4,1181.7 2810.7,1181.7 2794,1181.7 2777.3,1181.7 2760.6,1181.7 2743.9,1181.7 2727.2,1181.7 2710.5,1181.7 2693.8,1181.7 2677.1,1181.7 2660.4,1181.7 2643.7,1181.7 2627,1181.7 2610.3,1181.7 2593.6,1181.7 2576.9,1181.7 2560.2,1181.7 2543.5,1181.8 2526.8,1181.8 2510.1,1181.9 2493.4,1182.1 2476.7,1182.3 2460,1182.6 2443.3,1183.1 2426.6,1183.9 2409.9,1185 2393.2,1186.8 2376.5,1189.6 2359.8,1193.7 2343.1,1199.9 2326.4,1208.9 2309.7,1222 2293,1240.2 2276.3,1264.6 2259.6,1295.1 2242.9,1330.8 2226.2,1369.1 2209.5,1400.5 2192.8,1431.3 2176.1,1461.8 2159.4,1487.4 2142.7,1500.5 2126,1513 2109.3,1522.8" fill="#65e5f3" fill-opacity="0.25" stroke="#65e5f3" stroke-opacity="0.25" stroke-width="2.8" stroke-linejoin="miter"/>
<g class="s" stroke="#65e5f3" stroke-opacity="0.3">
<polyline points="2109.3,1516.1 2126,1499.7 2142.7,1478.3 2159.4,1451.5 2176.1,1417.1 2192.8,1377.7 2209.5,1331.6 2226.2,1284.1 2242.9,1237.2 2259.6,1193.6 2276.3,1156.9 2293,1127.9 2309.7,1106.1 2326.4,1090.2 2343.1,1078.9 2359.8,1071 2376.5,1065.6 2393.2,1061.9 2409.9,1059.5 2426.6,1057.8 2443.3,1056.6 2460,1055.9 2476.7,1055.4 2493.4,1055 2510.1,1054.8 2526.8,1054.7 2543.5,1054.6 2560.2,1054.5 2576.9,1054.4 2593.6,1054.4 2610.3,1054.4 2627,1054.4 2643.7,1054.4 2660.4,1054.4 2677.1,1054.4 2693.8,1054.4 2710.5,1054.4 2727.2,1054.4 2743.9,1054.3 2760.6,1054.3 2777.3,1054.3 2794,1054.3 2810.7,1054.3 2827.4,1054.3 2844.1,1054.3 2860.8,1054.3 2877.5,1054.3 2894.2,1054.3 2910.9,1054.3 2927.6,1054.3 2944.3,1054.3 2961,1054.3"/>
<polyline points="2109.3,1518.3 2126,1504 2142.7,1485.5 2159.4,1463 2176.1,1431.2 2192.8,1394.2 2209.5,1352.1 2226.2,1308.1 2242.9,1261.9 2259.6,1218.4 2276.3,1181.4 2293,1151.8 2309.7,1129.4 2326.4,1113.1 2343.1,1101.5 2359.8,1093.5 2376.5,1088 2393.2,1084.2 2409.9,1081.7 2426.6,1080 2443.3,1078.9 2460,1078.1 2476.7,1077.6 2493.4,1077.2 2510.1,1077 2526.8,1076.9 2543.5,1076.8 2560.2,1076.7 2576.9,1076.7 2593.6,1076.6 2610.3,1076.6 2627,1076.6 2643.7,1076.6 2660.4,1076.6 2677.1,1076.6 2693.8,1076.6 2710.5,1076.6 2727.2,1076.6 2743.9,1076.6 2760.6,1076.6 2777.3,1076.6 2794,1076.6 2810.7,1076.6 2827.4,1076.6 2844.1,1076.6 2860.8,1076.6 2877.5,1076.6 2894.2,1076.6 2910.9,1076.6 2927.6,1076.6 2944.3,1076.6 2961,1076.6"/>
<polyline points="2109.3,1516.3 2126,1500.2 2142.7,1479.2 2159.4,1453 2176.1,1419.3 2192.8,1381.2 2209.5,1337.5 2226.2,1293.4 2242.9,1250.5 2259.6,1211.3 2276.3,1179 2293,1153.8 2309.7,1135 2326.4,1121.5 2343.1,1112 2359.8,1105.5 2376.5,1101.1 2393.2,1098 2409.9,1096 2426.6,1094.7 2443.3,1093.8 2460,1093.2 2476.7,1092.8 2493.4,1092.5 2510.1,1092.3 2526.8,1092.2 2543.5,1092.1 2560.2,1092.1 2576.9,1092 2593.6,1092 2610.3,1092 2627,1092 2643.7,1092 2660.4,1092 2677.1,1092 2693.8,1092 2710.5,1092 2727.2,1092 2743.9,1092 2760.6,1092 2777.3,1092 2794,1092 2810.7,1092 2827.4,1092 2844.1,1092 2860.8,1092 2877.5,1092 2894.2,1092 2910.9,1092 2927.6,1092 2944.3,1092 2961,1092"/>
<polyline points="2109.3,1518.5 2126,1504.5 2142.7,1486.3 2159.4,1464.4 2176.1,1433.1 2192.8,1396.9 2209.5,1356 2226.2,1314 2242.9,1269.8 2259.6,1228.5 2276.3,1193.5 2293,1165.8 2309.7,1144.9 2326.4,1129.7 2343.1,1119.1 2359.8,1111.7 2376.5,1106.6 2393.2,1103.2 2409.9,1100.9 2426.6,1099.4 2443.3,1098.3 2460,1097.7 2476.7,1097.2 2493.4,1096.9 2510.1,1096.7 2526.8,1096.6 2543.5,1096.5 2560.2,1096.4 2576.9,1096.4 2593.6,1096.3 2610.3,1096.3 2627,1096.3 2643.7,1096.3 2660.4,1096.3 2677.1,1096.3 2693.8,1096.3 2710.5,1096.3 2727.2,1096.3 2743.9,1096.3 2760.6,1096.3 2777.3,1096.3 2794,1096.3 2810.7,1096.3 2827.4,1096.3 2844.1,1096.3 2860.8,1096.3 2877.5,1096.3 2894.2,1096.3 2910.9,1096.3 2927.6,1096.3 2944.3,1096.3 2961,1096.3"/>
<polyline points="2109.3,1518.6 2126,1504.7 2142.7,1486.6 2159.4,1464.9 2176.1,1433.7 2192.8,1397.6 2209.5,1356.9 2226.2,1315.1 2242.9,1270.9 2259.6,1229.6 2276.3,1194.7 2293,1167 2309.7,1146.1 2326.4,1130.9 2343.1,1120.2 2359.8,1112.8 2376.5,1107.7 2393.2,1104.3 2409.9,1102 2426.6,1100.5 2443.3,1099.5 2460,1098.8 2476.7,1098.3 2493.4,1098 2510.1,1097.8 2526.8,1097.7 2543.5,1097.6 2560.2,1097.6 2576.9,1097.5 2593.6,1097.5 2610.3,1097.5 2627,1097.5 2643.7,1097.5 2660.4,1097.5 2677.1,1097.4 2693.8,1097.4 2710.5,1097.4 2727.2,1097.4 2743.9,1097.4 2760.6,1097.4 2777.3,1097.4 2794,1097.4 2810.7,1097.4 2827.4,1097.4 2844.1,1097.4 2860.8,1097.4 2877.5,1097.4 2894.2,1097.4 2910.9,1097.4 2927.6,1097.4 2944.3,1097.4 2961,1097.4"/>
<polyline points="2109.3,1517.2 2126,1501.9 2142.7,1482 2159.4,1457.6 2176.1,1425.2 2192.8,1388.5 2209.5,1347.4 2226.2,1306.4 2242.9,1265.8 2259.6,1229.1 2276.3,1199 2293,1175.7 2309.7,1158.4 2326.4,1146.1 2343.1,1137.5 2359.8,1131.6 2376.5,1127.7 2393.2,1125 2409.9,1123.2 2426.6,1122.1 2443.3,1121.3 2460,1120.8 2476.7,1120.4 2493.4,1120.2 2510.1,1120 2526.8,1119.9 2543.5,1119.9 2560.2,1119.8 2576.9,1119.8 2593.6,1119.8 2610.3,1119.8 2627,1119.8 2643.7,1119.8 2660.4,1119.7 2677.1,1119.7 2693.8,1119.7 2710.5,1119.7 2727.2,1119.7 2743.9,1119.7 2760.6,1119.7 2777.3,1119.7 2794,1119.7 2810.7,1119.7 2827.4,1119.7 2844.1,1119.7 2860.8,1119.7 2877.5,1119.7 2894.2,1119.7 2910.9,1119.7 2927.6,1119.7 2944.3,1119.7 2961,1119.7"/>
<polyline points="2109.3,1517.8 2126,1503 2142.7,1484 2159.4,1460.8 2176.1,1429.1 2192.8,1393 2209.5,1352.9 2226.2,1312.9 2242.9,1272.4 2259.6,1235.6 2276.3,1205.3 2293,1181.7 2309.7,1164.2 2326.4,1151.7 2343.1,1142.9 2359.8,1137 2376.5,1133 2393.2,1130.3 2409.9,1128.5 2426.6,1127.3 2443.3,1126.5 2460,1126 2476.7,1125.6 2493.4,1125.4 2510.1,1125.2 2526.8,1125.1 2543.5,1125.1 2560.2,1125 2576.9,1125 2593.6,1125 2610.3,1125 2627,1125 2643.7,1125 2660.4,1125 2677.1,1125 2693.8,1125 2710.5,1125 2727.2,1125 2743.9,1125 2760.6,1125 2777.3,1124.9 2794,1124.9 2810.7,1124.9 2827.4,1124.9 2844.1,1124.9 2860.8,1124.9 2877.5,1124.9 2894.2,1124.9 2910.9,1124.9 2927.6,1124.9 2944.3,1124.9 2961,1124.9"/>
<polyline points="2109.3,1520.4 2126,1508.2 2142.7,1492.5 2159.4,1474.4 2176.1,1445.6 2192.8,1411.7 2209.5,1375.1 2226.2,1337.4 2242.9,1295.4 2259.6,1256.1 2276.3,1222.7 2293,1196.1 2309.7,1176 2326.4,1161.5 2343.1,1151.4 2359.8,1144.4 2376.5,1139.7 2393.2,1136.5 2409.9,1134.3 2426.6,1132.9 2443.3,1132 2460,1131.4 2476.7,1131 2493.4,1130.7 2510.1,1130.5 2526.8,1130.4 2543.5,1130.3 2560.2,1130.3 2576.9,1130.2 2593.6,1130.2 2610.3,1130.2 2627,1130.2 2643.7,1130.2 2660.4,1130.2 2677.1,1130.2 2693.8,1130.2 2710.5,1130.2 2727.2,1130.2 2743.9,1130.2 2760.6,1130.2 2777.3,1130.2 2794,1130.2 2810.7,1130.2 2827.4,1130.2 2844.1,1130.2 2860.8,1130.2 2877.5,1130.2 2894.2,1130.2 2910.9,1130.2 2927.6,1130.2 2944.3,1130.2 2961,1130.2"/>
<polyline points="2109.3,1520.1 2126,1507.6 2142.7,1491.6 2159.4,1472.9 2176.1,1443.9 2192.8,1409.8 2209.5,1372.9 2226.2,1335.1 2242.9,1293.4 2259.6,1254.6 2276.3,1221.7 2293,1195.6 2309.7,1176 2326.4,1161.8 2343.1,1151.9 2359.8,1145.1 2376.5,1140.5 2393.2,1137.4 2409.9,1135.3 2426.6,1133.9 2443.3,1133 2460,1132.4 2476.7,1132 2493.4,1131.8 2510.1,1131.6 2526.8,1131.5 2543.5,1131.4 2560.2,1131.3 2576.9,1131.3 2593.6,1131.3 2610.3,1131.3 2627,1131.3 2643.7,1131.3 2660.4,1131.3 2677.1,1131.3 2693.8,1131.3 2710.5,1131.3 2727.2,1131.3 2743.9,1131.3 2760.6,1131.3 2777.3,1131.3 2794,1131.3 2810.7,1131.3 2827.4,1131.3 2844.1,1131.3 2860.8,1131.3 2877.5,1131.3 2894.2,1131.3 2910.9,1131.3 2927.6,1131.3 2944.3,1131.3 2961,1131.3"/>
<polyline points="2109.3,1519.4 2126,1506.2 2142.7,1489.2 2159.4,1469.2 2176.1,1439.4 2192.8,1405 2209.5,1367.7 2226.2,1330.2 2242.9,1290.1 2259.6,1253.4 2276.3,1222.7 2293,1198.7 2309.7,1180.7 2326.4,1167.9 2343.1,1158.9 2359.8,1152.8 2376.5,1148.7 2393.2,1145.9 2409.9,1144.1 2426.6,1142.9 2443.3,1142.1 2460,1141.6 2476.7,1141.2 2493.4,1141 2510.1,1140.9 2526.8,1140.8 2543.5,1140.7 2560.2,1140.7 2576.9,1140.6 2593.6,1140.6 2610.3,1140.6 2627,1140.6 2643.7,1140.6 2660.4,1140.6 2677.1,1140.6 2693.8,1140.6 2710.5,1140.6 2727.2,1140.6 2743.9,1140.6 2760.6,1140.6 2777.3,1140.6 2794,1140.6 2810.7,1140.6 2827.4,1140.6 2844.1,1140.6 2860.8,1140.6 2877.5,1140.6 2894.2,1140.6 2910.9,1140.6 2927.6,1140.6 2944.3,1140.6 2961,1140.6"/>
</g>
<polyline class="k" points="2109.3,1528.1 2126,1510.8 2142.7,1498.3 2159.4,1492 2176.1,1446.1 2192.8,1383.3 2209.5,1364.5 2226.2,1337 2242.9,1233.1 2259.6,1210.7 2276.3,1186.4 2293,1158.1 2309.7,1145.9 2326.4,1123.6 2343.1,1101.6 2359.8,1085.1 2376.5,1076.1 2393.2,1070.2 2409.9,1062 2426.6,1060.4 2443.3,1060 2460,1059.6 2476.7,1059.2 2493.4,1059 2510.1,1058.8 2526.8,1058.6 2543.5,1058.5 2560.2,1058.4 2576.9,1058.3 2593.6,1058.3 2610.3,1058.2 2627,1058.2 2643.7,1058.1 2660.4,1058.1 2677.1,1058.1 2693.8,1058.1 2710.5,1058.1 2727.2,1058.1 2743.9,1058.1 2760.6,1058.1 2777.3,1058.1 2794,1058.1 2810.7,1058.1 2827.4,1058.1 2844.1,1058.1 2860.8,1058.1 2877.5,1058.1 2894.2,1058.1 2910.9,1058.1 2927.6,1058.1 2944.3,1058.1 2961,1058.1"/>
</svg>
<!-- panel P6 -->
<svg x="153" y="1626" width="937" height="678" viewBox="153 1626 937 678">
<rect x="153" y="1626" width="937" height="678" fill="#eeeeee"/>
<path class="g" d="M196 1626V2304M363 1626V2304M530 1626V2304M697 1626V2304M864 1626V2304M1031 1626V2304M153 2273.9H1090M153 2120.9H1090M153 1967.9H1090M153 1814.9H1090M153 1661.9H1090"/>
<polygon points="196,2256.7 212.7,2234.6 229.4,2202.1 246.1,2156.5 262.8,2099.8 279.5,2036.8 296.2,1975 312.9,1921.3 329.6,1879.3 346.3,1849.1 363,1835.3 379.7,1820.4 396.4,1810.3 413.1,1803.7 429.8,1799.6 446.5,1796.7 463.2,1795.5 479.9,1794.8 496.6,1794.4 513.3,1794.1 530,1793.9 546.7,1793.9 563.4,1793.8 580.1,1793.8 596.8,1793.7 613.5,1793.7 630.2,1793.7 646.9,1793.7 663.6,1793.7 680.3,1793.7 697,1793.7 713.7,1793.7 730.4,1793.7 747.1,1793.7 763.8,1793.7 780.5,1793.7 797.2,1793.7 813.9,1793.7 830.6,1793.7 847.3,1793.7 864,1793.7 880.7,1793.7 897.4,1793.7 914.1,1793.7 930.8,1793.7 947.5,1793.7 964.2,1793.7 980.9,1793.7 997.6,1793.7 1014.3,1793.7 1031,1793.7 1047.7,1793.7 1047.7,1928.8 1031,1928.8 1014.3,1928.8 997.6,1928.8 980.9,1928.8 964.2,1928.8 947.5,1928.8 930.8,1928.8 914.1,1928.8 897.4,1928.8 880.7,1928.8 864,1928.8 847.3,1928.8 830.6,1928.8 813.9,1928.8 797.2,1928.8 780.5,1928.8 763.8,1928.8 747.1,1928.8 730.4,1928.8 713.7,1928.8 697,1928.8 680.3,1928.8 663.6,1928.8 646.9,1928.8 630.2,1928.8 613.5,1928.8 596.8,1928.8 580.1,1928.9 563.4,1928.9 546.7,1929 530,1929 513.3,1929.2 496.6,1929.5 479.9,1929.9 463.2,1930.6 446.5,1931.7 429.8,1933.5 413.1,1936.5 396.4,1941.3 379.7,1949 363,1960.9 346.3,1978.8 329.6,2004.5 312.9,2044.5 296.2,2089.6 279.5,2129.7 262.8,2169.4 246.1,2204.4 229.4,2231.7 212.7,2252.5 196,2266.2" fill="#e6e135" fill-opacity="0.25" stroke="#e6e135" stroke-opacity="0.25" stroke-width="2.8" stroke-linejoin="miter"/>
<g class="s" stroke="#e6e135" stroke-opacity="0.3">
<polyline points="196,2260.4 212.7,2241.5 229.4,2213.5 246.1,2174.5 262.8,2125 279.5,2068.3 296.2,2010.3 312.9,1954.6 329.6,1908.5 346.3,1875.8 363,1853.2 379.7,1838.3 396.4,1828.9 413.1,1822.9 429.8,1819.3 446.5,1817.1 463.2,1815.7 479.9,1814.9 496.6,1814.4 513.3,1814.1 530,1813.9 546.7,1813.8 563.4,1813.7 580.1,1813.7 596.8,1813.7 613.5,1813.7 630.2,1813.6 646.9,1813.6 663.6,1813.6 680.3,1813.6 697,1813.6 713.7,1813.6 730.4,1813.6 747.1,1813.6 763.8,1813.6 780.5,1813.6 797.2,1813.6 813.9,1813.6 830.6,1813.6 847.3,1813.6 864,1813.6 880.7,1813.6 897.4,1813.6 914.1,1813.6 930.8,1813.6 947.5,1813.6 964.2,1813.6 980.9,1813.6 997.6,1813.6 1014.3,1813.6 1031,1813.6 1047.7,1813.6"/>
<polyline points="196,2258.3 212.7,2237.6 229.4,2207.2 246.1,2164.7 262.8,2112 279.5,2053.8 296.2,1996.9 312.9,1946.1 329.6,1905.7 346.3,1877.5 363,1858.3 379.7,1845.9 396.4,1838 413.1,1833.1 429.8,1830.1 446.5,1828.3 463.2,1827.1 479.9,1826.5 496.6,1826.1 513.3,1825.8 530,1825.7 546.7,1825.6 563.4,1825.5 580.1,1825.5 596.8,1825.5 613.5,1825.5 630.2,1825.4 646.9,1825.4 663.6,1825.4 680.3,1825.4 697,1825.4 713.7,1825.4 730.4,1825.4 747.1,1825.4 763.8,1825.4 780.5,1825.4 797.2,1825.4 813.9,1825.4 830.6,1825.4 847.3,1825.4 864,1825.4 880.7,1825.4 897.4,1825.4 914.1,1825.4 930.8,1825.4 947.5,1825.4 964.2,1825.4 980.9,1825.4 997.6,1825.4 1014.3,1825.4 1031,1825.4 1047.7,1825.4"/>
<polyline points="196,2262.5 212.7,2245.6 229.4,2220.2 246.1,2185.4 262.8,2140.8 279.5,2089.3 296.2,2036.2 312.9,1982.3 329.6,1936.6 346.3,1904.9 363,1882.8 379.7,1868.2 396.4,1858.8 413.1,1853 429.8,1849.4 446.5,1847.1 463.2,1845.8 479.9,1845 496.6,1844.5 513.3,1844.2 530,1844 546.7,1843.9 563.4,1843.8 580.1,1843.8 596.8,1843.8 613.5,1843.7 630.2,1843.7 646.9,1843.7 663.6,1843.7 680.3,1843.7 697,1843.7 713.7,1843.7 730.4,1843.7 747.1,1843.7 763.8,1843.7 780.5,1843.7 797.2,1843.7 813.9,1843.7 830.6,1843.7 847.3,1843.7 864,1843.7 880.7,1843.7 897.4,1843.7 914.1,1843.7 930.8,1843.7 947.5,1843.7 964.2,1843.7 980.9,1843.7 997.6,1843.7 1014.3,1843.7 1031,1843.7 1047.7,1843.7"/>
<polyline points="196,2262.1 212.7,2244.8 229.4,2219 246.1,2183.5 262.8,2138.4 279.5,2087 296.2,2034.6 312.9,1982.4 329.6,1938.5 346.3,1908.1 363,1887.1 379.7,1873.2 396.4,1864.4 413.1,1858.8 429.8,1855.4 446.5,1853.3 463.2,1852.1 479.9,1851.3 496.6,1850.8 513.3,1850.5 530,1850.4 546.7,1850.2 563.4,1850.2 580.1,1850.1 596.8,1850.1 613.5,1850.1 630.2,1850.1 646.9,1850.1 663.6,1850.1 680.3,1850.1 697,1850.1 713.7,1850.1 730.4,1850.1 747.1,1850.1 763.8,1850.1 780.5,1850.1 797.2,1850.1 813.9,1850.1 830.6,1850.1 847.3,1850.1 864,1850.1 880.7,1850.1 897.4,1850.1 914.1,1850.1 930.8,1850.1 947.5,1850.1 964.2,1850.1 980.9,1850.1 997.6,1850.1 1014.3,1850.1 1031,1850.1 1047.7,1850.1"/>
<polyline points="196,2259.7 212.7,2240.3 229.4,2211.7 246.1,2172.2 262.8,2123.3 279.5,2069.6 296.2,2017.6 312.9,1970 329.6,1931.7 346.3,1905.7 363,1888 379.7,1876.5 396.4,1869.3 413.1,1864.7 429.8,1861.9 446.5,1860.2 463.2,1859.2 479.9,1858.6 496.6,1858.2 513.3,1858 530,1857.8 546.7,1857.7 563.4,1857.7 580.1,1857.7 596.8,1857.6 613.5,1857.6 630.2,1857.6 646.9,1857.6 663.6,1857.6 680.3,1857.6 697,1857.6 713.7,1857.6 730.4,1857.6 747.1,1857.6 763.8,1857.6 780.5,1857.6 797.2,1857.6 813.9,1857.6 830.6,1857.6 847.3,1857.6 864,1857.6 880.7,1857.6 897.4,1857.6 914.1,1857.6 930.8,1857.6 947.5,1857.6 964.2,1857.6 980.9,1857.6 997.6,1857.6 1014.3,1857.6 1031,1857.6 1047.7,1857.6"/>
<polyline points="196,2261.9 212.7,2244.4 229.4,2218.4 246.1,2182.7 262.8,2137.9 279.5,2087.5 296.2,2037.2 312.9,1987.7 329.6,1946.4 346.3,1918.3 363,1899 379.7,1886.3 396.4,1878.2 413.1,1873.1 429.8,1870 446.5,1868.1 463.2,1866.9 479.9,1866.2 496.6,1865.8 513.3,1865.5 530,1865.4 546.7,1865.3 563.4,1865.2 580.1,1865.2 596.8,1865.2 613.5,1865.1 630.2,1865.1 646.9,1865.1 663.6,1865.1 680.3,1865.1 697,1865.1 713.7,1865.1 730.4,1865.1 747.1,1865.1 763.8,1865.1 780.5,1865.1 797.2,1865.1 813.9,1865.1 830.6,1865.1 847.3,1865.1 864,1865.1 880.7,1865.1 897.4,1865.1 914.1,1865.1 930.8,1865.1 947.5,1865.1 964.2,1865.1 980.9,1865.1 997.6,1865.1 1014.3,1865.1 1031,1865.1 1047.7,1865.1"/>
<polyline points="196,2261.1 212.7,2243 229.4,2216.1 246.1,2179.2 262.8,2133.4 279.5,2083 296.2,2033.9 312.9,1987.2 329.6,1948.9 346.3,1923.3 363,1905.8 379.7,1894.4 396.4,1887.2 413.1,1882.6 429.8,1879.8 446.5,1878.1 463.2,1877.1 479.9,1876.5 496.6,1876.1 513.3,1875.8 530,1875.7 546.7,1875.6 563.4,1875.6 580.1,1875.5 596.8,1875.5 613.5,1875.5 630.2,1875.5 646.9,1875.5 663.6,1875.5 680.3,1875.5 697,1875.5 713.7,1875.5 730.4,1875.5 747.1,1875.5 763.8,1875.5 780.5,1875.5 797.2,1875.5 813.9,1875.5 830.6,1875.5 847.3,1875.5 864,1875.5 880.7,1875.5 897.4,1875.5 914.1,1875.5 930.8,1875.5 947.5,1875.5 964.2,1875.5 980.9,1875.5 997.6,1875.5 1014.3,1875.5 1031,1875.5 1047.7,1875.5"/>
<polyline points="196,2260.6 212.7,2242 229.4,2214.5 246.1,2176.8 262.8,2130.2 279.5,2079.2 296.2,2030.2 312.9,1984.4 329.6,1947.3 346.3,1922.5 363,1905.7 379.7,1894.8 396.4,1887.8 413.1,1883.5 429.8,1880.9 446.5,1879.2 463.2,1878.2 479.9,1877.6 496.6,1877.3 513.3,1877.1 530,1876.9 546.7,1876.8 563.4,1876.8 580.1,1876.8 596.8,1876.7 613.5,1876.7 630.2,1876.7 646.9,1876.7 663.6,1876.7 680.3,1876.7 697,1876.7 713.7,1876.7 730.4,1876.7 747.1,1876.7 763.8,1876.7 780.5,1876.7 797.2,1876.7 813.9,1876.7 830.6,1876.7 847.3,1876.7 864,1876.7 880.7,1876.7 897.4,1876.7 914.1,1876.7 930.8,1876.7 947.5,1876.7 964.2,1876.7 980.9,1876.7 997.6,1876.7 1014.3,1876.7 1031,1876.7 1047.7,1876.7"/>
<polyline points="196,2263.4 212.7,2247.1 229.4,2222.9 246.1,2190 262.8,2148.3 279.5,2101.1 296.2,2053.6 312.9,2004.9 329.6,1963.4 346.3,1935.5 363,1916.2 379.7,1903.5 396.4,1895.3 413.1,1890.2 429.8,1887.1 446.5,1885.2 463.2,1884 479.9,1883.3 496.6,1882.8 513.3,1882.6 530,1882.4 546.7,1882.3 563.4,1882.2 580.1,1882.2 596.8,1882.2 613.5,1882.2 630.2,1882.2 646.9,1882.2 663.6,1882.2 680.3,1882.2 697,1882.2 713.7,1882.2 730.4,1882.2 747.1,1882.2 763.8,1882.2 780.5,1882.2 797.2,1882.2 813.9,1882.2 830.6,1882.2 847.3,1882.2 864,1882.2 880.7,1882.2 897.4,1882.2 914.1,1882.2 930.8,1882.2 947.5,1882.2 964.2,1882.2 980.9,1882.2 997.6,1882.2 1014.3,1882.2 1031,1882.2 1047.7,1882.2"/>
<polyline points="196,2262.4 212.7,2245.3 229.4,2220 246.1,2185.8 262.8,2143.4 279.5,2097.1 296.2,2052.8 312.9,2009.5 329.6,1973.4 346.3,1950.2 363,1934.4 379.7,1924 396.4,1917.4 413.1,1913.3 429.8,1910.8 446.5,1909.2 463.2,1908.3 479.9,1907.7 496.6,1907.3 513.3,1907.1 530,1907 546.7,1906.9 563.4,1906.9 580.1,1906.8 596.8,1906.8 613.5,1906.8 630.2,1906.8 646.9,1906.8 663.6,1906.8 680.3,1906.8 697,1906.8 713.7,1906.8 730.4,1906.8 747.1,1906.8 763.8,1906.8 780.5,1906.8 797.2,1906.8 813.9,1906.8 830.6,1906.8 847.3,1906.8 864,1906.8 880.7,1906.8 897.4,1906.8 914.1,1906.8 930.8,1906.8 947.5,1906.8 964.2,1906.8 980.9,1906.8 997.6,1906.8 1014.3,1906.8 1031,1906.8 1047.7,1906.8"/>
</g>
<polyline class="k" points="196,2270 212.7,2253.9 229.4,2215.8 246.1,2199.3 262.8,2090.2 279.5,1897.9 296.2,1765.2 312.9,1729.5 329.6,1715 346.3,1706.7 363,1699.6 379.7,1694.9 396.4,1683.2 413.1,1665.1 429.8,1663.9 446.5,1662.4 463.2,1660 479.9,1658.4 496.6,1657.6 513.3,1657.2 530,1657 546.7,1657 563.4,1656.9 580.1,1656.9 596.8,1656.9 613.5,1656.9 630.2,1656.9 646.9,1656.9 663.6,1656.8 680.3,1656.8 697,1656.8 713.7,1656.8 730.4,1656.8 747.1,1656.8 763.8,1656.8 780.5,1656.8 797.2,1656.8 813.9,1656.8 830.6,1656.8 847.3,1656.8 864,1656.8 880.7,1656.8 897.4,1656.8 914.1,1656.8 930.8,1656.8 947.5,1656.8 964.2,1656.8 980.9,1656.8 997.6,1656.8 1014.3,1656.8 1031,1656.8 1047.7,1656.8"/>
</svg>
<!-- panel P7 -->
<svg x="1110" y="1626" width="937" height="678" viewBox="1110 1626 937 678">
<rect x="1110" y="1626" width="937" height="678" fill="#eeeeee"/>
<path class="g" d="M1153 1626V2304M1320 1626V2304M1487 1626V2304M1654 1626V2304M1821 1626V2304M1988 1626V2304M1110 2273.9H2047M1110 2120.9H2047M1110 1967.9H2047M1110 1814.9H2047M1110 1661.9H2047"/>
<polygon points="1153,2259.4 1169.7,2243.2 1186.4,2217.8 1203.1,2182.9 1219.8,2143 1236.5,2108.9 1253.2,2063.5 1269.9,2018.8 1286.6,1977.8 1303.3,1942.8 1320,1916.9 1336.7,1897.7 1353.4,1884 1370.1,1869.5 1386.8,1859 1403.5,1852.2 1420.2,1848.3 1436.9,1845.7 1453.6,1843.9 1470.3,1842.7 1487,1841.9 1503.7,1841.3 1520.4,1840.9 1537.1,1840.7 1553.8,1840.5 1570.5,1840.4 1587.2,1840.3 1603.9,1840.3 1620.6,1840.2 1637.3,1840.2 1654,1840.2 1670.7,1840.2 1687.4,1840.2 1704.1,1840.2 1720.8,1840.2 1737.5,1840.1 1754.2,1840.1 1770.9,1840.1 1787.6,1840.1 1804.3,1840.1 1821,1840.1 1837.7,1840.1 1854.4,1840.1 1871.1,1840.1 1887.8,1840.1 1904.5,1840.1 1921.2,1840.1 1937.9,1840.1 1954.6,1840.1 1971.3,1840.1 1988,1840.1 2004.7,1840.1 2004.7,1965 1988,1965 1971.3,1965 1954.6,1965 1937.9,1965 1921.2,1965 1904.5,1965 1887.8,1965 1871.1,1965 1854.4,1965 1837.7,1965 1821,1965 1804.3,1965 1787.6,1965 1770.9,1965 1754.2,1965 1737.5,1965 1720.8,1965 1704.1,1965 1687.4,1965 1670.7,1965 1654,1965 1637.3,1965 1620.6,1965 1603.9,1965.1 1587.2,1965.1 1570.5,1965.2 1553.8,1965.2 1537.1,1965.4 1520.4,1965.6 1503.7,1965.8 1487,1966.3 1470.3,1967.7 1453.6,1969.5 1436.9,1971.6 1420.2,1974.4 1403.5,1978.9 1386.8,1984.9 1370.1,1993.7 1353.4,2005.9 1336.7,2015.6 1320,2035.2 1303.3,2061.7 1286.6,2091 1269.9,2118.4 1253.2,2145.1 1236.5,2175.7 1219.8,2204.6 1203.1,2227.9 1186.4,2245.6 1169.7,2258.8 1153,2267.9" fill="#1ccd6a" fill-opacity="0.25" stroke="#1ccd6a" stroke-opacity="0.25" stroke-width="2.8" stroke-linejoin="miter"/>
<g class="s" stroke="#1ccd6a" stroke-opacity="0.3">
<polyline points="1153,2261.2 1169.7,2246.4 1186.4,2223.4 1203.1,2192 1219.8,2155.7 1236.5,2122.9 1253.2,2081 1269.9,2040.6 1286.6,2003.4 1303.3,1970.2 1320,1943.3 1336.7,1922.3 1353.4,1907.3 1370.1,1896.6 1386.8,1889 1403.5,1883.8 1420.2,1880.3 1436.9,1877.8 1453.6,1876.2 1470.3,1875.1 1487,1874.3 1503.7,1873.8 1520.4,1873.5 1537.1,1873.2 1553.8,1873.1 1570.5,1873 1587.2,1872.9 1603.9,1872.9 1620.6,1872.8 1637.3,1872.8 1654,1872.8 1670.7,1872.8 1687.4,1872.8 1704.1,1872.8 1720.8,1872.8 1737.5,1872.8 1754.2,1872.8 1770.9,1872.8 1787.6,1872.8 1804.3,1872.8 1821,1872.8 1837.7,1872.8 1854.4,1872.8 1871.1,1872.8 1887.8,1872.8 1904.5,1872.8 1921.2,1872.8 1937.9,1872.8 1954.6,1872.8 1971.3,1872.8 1988,1872.8 2004.7,1872.8"/>
<polyline points="1153,2262.3 1169.7,2248.5 1186.4,2227.2 1203.1,2198.2 1219.8,2164.1 1236.5,2132.1 1253.2,2092.3 1269.9,2054.6 1286.6,2019.4 1303.3,1987.1 1320,1960.5 1336.7,1939.7 1353.4,1925.1 1370.1,1914.6 1386.8,1907.3 1403.5,1902.2 1420.2,1898.7 1436.9,1896.4 1453.6,1894.8 1470.3,1893.7 1487,1893 1503.7,1892.5 1520.4,1892.2 1537.1,1892 1553.8,1891.8 1570.5,1891.7 1587.2,1891.7 1603.9,1891.6 1620.6,1891.6 1637.3,1891.6 1654,1891.6 1670.7,1891.6 1687.4,1891.6 1704.1,1891.6 1720.8,1891.6 1737.5,1891.6 1754.2,1891.6 1770.9,1891.6 1787.6,1891.6 1804.3,1891.6 1821,1891.6 1837.7,1891.6 1854.4,1891.6 1871.1,1891.6 1887.8,1891.6 1904.5,1891.6 1921.2,1891.6 1937.9,1891.6 1954.6,1891.6 1971.3,1891.6 1988,1891.6 2004.7,1891.6"/>
<polyline points="1153,2264.7 1169.7,2253 1186.4,2235.1 1203.1,2210.8 1219.8,2180.7 1236.5,2149.1 1253.2,2111.2 1269.9,2075.1 1286.6,2039.3 1303.3,2003.6 1320,1973.4 1336.7,1949.2 1353.4,1932.3 1370.1,1920 1386.8,1911.4 1403.5,1905.4 1420.2,1901.3 1436.9,1898.5 1453.6,1896.6 1470.3,1895.3 1487,1894.4 1503.7,1893.9 1520.4,1893.5 1537.1,1893.2 1553.8,1893 1570.5,1892.9 1587.2,1892.9 1603.9,1892.8 1620.6,1892.8 1637.3,1892.7 1654,1892.7 1670.7,1892.7 1687.4,1892.7 1704.1,1892.7 1720.8,1892.7 1737.5,1892.7 1754.2,1892.7 1770.9,1892.7 1787.6,1892.7 1804.3,1892.7 1821,1892.7 1837.7,1892.7 1854.4,1892.7 1871.1,1892.7 1887.8,1892.7 1904.5,1892.7 1921.2,1892.7 1937.9,1892.7 1954.6,1892.7 1971.3,1892.7 1988,1892.7 2004.7,1892.7"/>
<polyline points="1153,2265.3 1169.7,2254 1186.4,2237 1203.1,2213.8 1219.8,2184.9 1236.5,2153.9 1253.2,2117.4 1269.9,2083.2 1286.6,2049.2 1303.3,2014.7 1320,1985.5 1336.7,1961.9 1353.4,1945.6 1370.1,1933.9 1386.8,1925.6 1403.5,1919.9 1420.2,1915.9 1436.9,1913.3 1453.6,1911.5 1470.3,1910.3 1487,1909.5 1503.7,1908.9 1520.4,1908.6 1537.1,1908.3 1553.8,1908.2 1570.5,1908.1 1587.2,1908 1603.9,1907.9 1620.6,1907.9 1637.3,1907.9 1654,1907.9 1670.7,1907.9 1687.4,1907.9 1704.1,1907.9 1720.8,1907.9 1737.5,1907.9 1754.2,1907.9 1770.9,1907.8 1787.6,1907.8 1804.3,1907.8 1821,1907.8 1837.7,1907.8 1854.4,1907.8 1871.1,1907.8 1887.8,1907.8 1904.5,1907.8 1921.2,1907.8 1937.9,1907.8 1954.6,1907.8 1971.3,1907.8 1988,1907.8 2004.7,1907.8"/>
<polyline points="1153,2263.7 1169.7,2251.1 1186.4,2231.8 1203.1,2205.6 1219.8,2174.2 1236.5,2142.9 1253.2,2105.3 1269.9,2070.2 1286.6,2036.8 1303.3,2004.7 1320,1978 1336.7,1956.8 1353.4,1942.2 1370.1,1931.7 1386.8,1924.3 1403.5,1919.2 1420.2,1915.8 1436.9,1913.4 1453.6,1911.8 1470.3,1910.8 1487,1910.1 1503.7,1909.6 1520.4,1909.3 1537.1,1909.1 1553.8,1908.9 1570.5,1908.8 1587.2,1908.8 1603.9,1908.7 1620.6,1908.7 1637.3,1908.7 1654,1908.7 1670.7,1908.7 1687.4,1908.7 1704.1,1908.7 1720.8,1908.7 1737.5,1908.7 1754.2,1908.7 1770.9,1908.7 1787.6,1908.7 1804.3,1908.7 1821,1908.7 1837.7,1908.7 1854.4,1908.7 1871.1,1908.7 1887.8,1908.7 1904.5,1908.7 1921.2,1908.7 1937.9,1908.7 1954.6,1908.7 1971.3,1908.7 1988,1908.7 2004.7,1908.7"/>
<polyline points="1153,2262.9 1169.7,2249.6 1186.4,2229.1 1203.1,2201.4 1219.8,2168.7 1236.5,2137.3 1253.2,2099.1 1269.9,2063.7 1286.6,2030.6 1303.3,1999.8 1320,1974.4 1336.7,1954.4 1353.4,1940.7 1370.1,1930.9 1386.8,1924 1403.5,1919.3 1420.2,1916.1 1436.9,1913.9 1453.6,1912.4 1470.3,1911.4 1487,1910.8 1503.7,1910.3 1520.4,1910 1537.1,1909.8 1553.8,1909.7 1570.5,1909.6 1587.2,1909.6 1603.9,1909.5 1620.6,1909.5 1637.3,1909.5 1654,1909.5 1670.7,1909.5 1687.4,1909.5 1704.1,1909.5 1720.8,1909.5 1737.5,1909.5 1754.2,1909.5 1770.9,1909.5 1787.6,1909.5 1804.3,1909.5 1821,1909.5 1837.7,1909.5 1854.4,1909.5 1871.1,1909.5 1887.8,1909.5 1904.5,1909.5 1921.2,1909.5 1937.9,1909.5 1954.6,1909.5 1971.3,1909.5 1988,1909.5 2004.7,1909.5"/>
<polyline points="1153,2264.2 1169.7,2252 1186.4,2233.5 1203.1,2208.5 1219.8,2178.3 1236.5,2147.7 1253.2,2111.7 1269.9,2078.8 1286.6,2047.6 1303.3,2017.2 1320,1991.7 1336.7,1971.5 1353.4,1957.8 1370.1,1948 1386.8,1941.2 1403.5,1936.5 1420.2,1933.3 1436.9,1931.2 1453.6,1929.7 1470.3,1928.8 1487,1928.1 1503.7,1927.7 1520.4,1927.4 1537.1,1927.2 1553.8,1927.1 1570.5,1927 1587.2,1926.9 1603.9,1926.9 1620.6,1926.9 1637.3,1926.9 1654,1926.8 1670.7,1926.8 1687.4,1926.8 1704.1,1926.8 1720.8,1926.8 1737.5,1926.8 1754.2,1926.8 1770.9,1926.8 1787.6,1926.8 1804.3,1926.8 1821,1926.8 1837.7,1926.8 1854.4,1926.8 1871.1,1926.8 1887.8,1926.8 1904.5,1926.8 1921.2,1926.8 1937.9,1926.8 1954.6,1926.8 1971.3,1926.8 1988,1926.8 2004.7,1926.8"/>
<polyline points="1153,2264.5 1169.7,2252.5 1186.4,2234.3 1203.1,2209.9 1219.8,2180.4 1236.5,2150.2 1253.2,2115.2 1269.9,2083.8 1286.6,2054.1 1303.3,2024.9 1320,2000.5 1336.7,1981 1353.4,1968.1 1370.1,1958.9 1386.8,1952.5 1403.5,1948.1 1420.2,1945.1 1436.9,1943.1 1453.6,1941.7 1470.3,1940.9 1487,1940.3 1503.7,1939.9 1520.4,1939.6 1537.1,1939.4 1553.8,1939.3 1570.5,1939.2 1587.2,1939.2 1603.9,1939.2 1620.6,1939.1 1637.3,1939.1 1654,1939.1 1670.7,1939.1 1687.4,1939.1 1704.1,1939.1 1720.8,1939.1 1737.5,1939.1 1754.2,1939.1 1770.9,1939.1 1787.6,1939.1 1804.3,1939.1 1821,1939.1 1837.7,1939.1 1854.4,1939.1 1871.1,1939.1 1887.8,1939.1 1904.5,1939.1 1921.2,1939.1 1937.9,1939.1 1954.6,1939.1 1971.3,1939.1 1988,1939.1 2004.7,1939.1"/>
<polyline points="1153,2266.4 1169.7,2256.1 1186.4,2240.7 1203.1,2220 1219.8,2194 1236.5,2164.3 1253.2,2131.5 1269.9,2102.3 1286.6,2073.2 1303.3,2042.5 1320,2016.2 1336.7,1994.9 1353.4,1980.8 1370.1,1970.7 1386.8,1963.6 1403.5,1958.7 1420.2,1955.5 1436.9,1953.2 1453.6,1951.8 1470.3,1950.8 1487,1950.1 1503.7,1949.7 1520.4,1949.4 1537.1,1949.2 1553.8,1949.1 1570.5,1949 1587.2,1948.9 1603.9,1948.9 1620.6,1948.9 1637.3,1948.8 1654,1948.8 1670.7,1948.8 1687.4,1948.8 1704.1,1948.8 1720.8,1948.8 1737.5,1948.8 1754.2,1948.8 1770.9,1948.8 1787.6,1948.8 1804.3,1948.8 1821,1948.8 1837.7,1948.8 1854.4,1948.8 1871.1,1948.8 1887.8,1948.8 1904.5,1948.8 1921.2,1948.8 1937.9,1948.8 1954.6,1948.8 1971.3,1948.8 1988,1948.8 2004.7,1948.8"/>
<polyline points="1153,2264.6 1169.7,2252.8 1186.4,2235 1203.1,2211.1 1219.8,2182.5 1236.5,2153.1 1253.2,2120 1269.9,2091.3 1286.6,2064.9 1303.3,2038.7 1320,2017 1336.7,1999.7 1353.4,1988.6 1370.1,1980.8 1386.8,1975.4 1403.5,1971.8 1420.2,1969.3 1436.9,1967.7 1453.6,1966.6 1470.3,1965.9 1487,1965.5 1503.7,1965.2 1520.4,1964.9 1537.1,1964.8 1553.8,1964.7 1570.5,1964.7 1587.2,1964.6 1603.9,1964.6 1620.6,1964.6 1637.3,1964.6 1654,1964.6 1670.7,1964.6 1687.4,1964.6 1704.1,1964.6 1720.8,1964.6 1737.5,1964.6 1754.2,1964.6 1770.9,1964.6 1787.6,1964.6 1804.3,1964.6 1821,1964.6 1837.7,1964.6 1854.4,1964.6 1871.1,1964.6 1887.8,1964.6 1904.5,1964.6 1921.2,1964.6 1937.9,1964.6 1954.6,1964.6 1971.3,1964.6 1988,1964.6 2004.7,1964.6"/>
</g>
<polyline class="k" points="1153,2255.4 1169.7,2246 1186.4,2217.8 1203.1,2206.4 1219.8,2202.9 1236.5,2190.3 1253.2,2155 1269.9,2138.1 1286.6,2127.5 1303.3,2113.8 1320,2085.1 1336.7,2082.4 1353.4,2061.5 1370.1,2050.9 1386.8,2049.8 1403.5,2030.1 1420.2,2029.4 1436.9,2028.6 1453.6,2027 1470.3,2025.4 1487,2024.3 1503.7,2023.8 1520.4,2023.5 1537.1,2023.1 1553.8,2022.9 1570.5,2022.7 1587.2,2022.6 1603.9,2022.5 1620.6,2022.4 1637.3,2022.4 1654,2022.4 1670.7,2022.3 1687.4,2022.3 1704.1,2022.3 1720.8,2022.3 1737.5,2022.3 1754.2,2022.2 1770.9,2022.2 1787.6,2022.2 1804.3,2022.2 1821,2022.2 1837.7,2022.2 1854.4,2022.2 1871.1,2022.2 1887.8,2022.2 1904.5,2022.2 1921.2,2022.2 1937.9,2022.2 1954.6,2022.2 1971.3,2022.2 1988,2022.2 2004.7,2022.2"/>
</svg>
<!-- panel P8 -->
<svg x="2067" y="1626" width="936.5" height="678" viewBox="2067 1626 936.5 678">
<rect x="2067" y="1626" width="936.5" height="678" fill="#eeeeee"/>
<path class="g" d="M2109.3 1626V2304M2276.3 1626V2304M2443.3 1626V2304M2610.3 1626V2304M2777.3 1626V2304M2944.3 1626V2304M2067 2273.9H3003.5M2067 2120.9H3003.5M2067 1967.9H3003.5M2067 1814.9H3003.5M2067 1661.9H3003.5"/>
<polygon points="2109.3,2258 2126,2238.4 2142.7,2213.2 2159.4,2178.8 2176.1,2136.5 2192.8,2097.3 2209.5,2051 2226.2,2003.5 2242.9,1960.1 2259.6,1923 2276.3,1897.8 2293,1878.1 2309.7,1858.6 2326.4,1844 2343.1,1834.2 2359.8,1826.9 2376.5,1822.9 2393.2,1820.1 2409.9,1818.2 2426.6,1816.9 2443.3,1816 2460,1815.4 2476.7,1815 2493.4,1814.8 2510.1,1814.6 2526.8,1814.5 2543.5,1814.4 2560.2,1814.3 2576.9,1814.3 2593.6,1814.3 2610.3,1814.2 2627,1814.2 2643.7,1814.2 2660.4,1814.2 2677.1,1814.2 2693.8,1814.2 2710.5,1814.2 2727.2,1814.2 2743.9,1814.2 2760.6,1814.2 2777.3,1814.2 2794,1814.2 2810.7,1814.2 2827.4,1814.2 2844.1,1814.2 2860.8,1814.2 2877.5,1814.2 2894.2,1814.2 2910.9,1814.2 2927.6,1814.2 2944.3,1814.2 2961,1814.2 2961,1941.5 2944.3,1941.5 2927.6,1941.5 2910.9,1941.5 2894.2,1941.5 2877.5,1941.5 2860.8,1941.5 2844.1,1941.5 2827.4,1941.5 2810.7,1941.5 2794,1941.5 2777.3,1941.5 2760.6,1941.5 2743.9,1941.5 2727.2,1941.5 2710.5,1941.5 2693.8,1941.5 2677.1,1941.5 2660.4,1941.5 2643.7,1941.5 2627,1941.5 2610.3,1941.5 2593.6,1941.5 2576.9,1941.6 2560.2,1941.6 2543.5,1941.6 2526.8,1941.7 2510.1,1941.8 2493.4,1941.9 2476.7,1942.1 2460,1942.4 2443.3,1942.9 2426.6,1943.6 2409.9,1944.7 2393.2,1946.8 2376.5,1949.7 2359.8,1954.4 2343.1,1960.7 2326.4,1969.9 2309.7,1982.3 2293,1998.7 2276.3,2020.1 2259.6,2051.1 2242.9,2077.5 2226.2,2106.6 2209.5,2135.7 2192.8,2166.3 2176.1,2195.6 2159.4,2220.3 2142.7,2241.3 2126,2256.5 2109.3,2267.4" fill="#bd8ad5" fill-opacity="0.25" stroke="#bd8ad5" stroke-opacity="0.25" stroke-width="2.8" stroke-linejoin="miter"/>
<g class="s" stroke="#bd8ad5" stroke-opacity="0.3">
<polyline points="2109.3,2256.2 2126,2234.9 2142.7,2207.7 2159.4,2170.5 2176.1,2124.8 2192.8,2083.6 2209.5,2034.1 2226.2,1983.1 2242.9,1936.8 2259.6,1899 2276.3,1869 2293,1846.4 2309.7,1829.2 2326.4,1816.9 2343.1,1808.2 2359.8,1802.1 2376.5,1797.9 2393.2,1795.1 2409.9,1793.1 2426.6,1791.8 2443.3,1790.9 2460,1790.3 2476.7,1789.8 2493.4,1789.6 2510.1,1789.4 2526.8,1789.2 2543.5,1789.2 2560.2,1789.1 2576.9,1789.1 2593.6,1789 2610.3,1789 2627,1789 2643.7,1789 2660.4,1789 2677.1,1789 2693.8,1789 2710.5,1789 2727.2,1789 2743.9,1789 2760.6,1789 2777.3,1789 2794,1789 2810.7,1789 2827.4,1789 2844.1,1789 2860.8,1789 2877.5,1789 2894.2,1789 2910.9,1789 2927.6,1789 2944.3,1789 2961,1789"/>
<polyline points="2109.3,2260.6 2126,2243.3 2142.7,2220.7 2159.4,2189.8 2176.1,2151.9 2192.8,2114.9 2209.5,2071.9 2226.2,2027.9 2242.9,1986.5 2259.6,1948.6 2276.3,1917.5 2293,1893.1 2309.7,1875.5 2326.4,1862.8 2343.1,1853.9 2359.8,1847.7 2376.5,1843.4 2393.2,1840.5 2409.9,1838.5 2426.6,1837.2 2443.3,1836.3 2460,1835.7 2476.7,1835.3 2493.4,1835 2510.1,1834.8 2526.8,1834.7 2543.5,1834.6 2560.2,1834.6 2576.9,1834.5 2593.6,1834.5 2610.3,1834.5 2627,1834.5 2643.7,1834.5 2660.4,1834.5 2677.1,1834.5 2693.8,1834.5 2710.5,1834.5 2727.2,1834.5 2743.9,1834.5 2760.6,1834.5 2777.3,1834.5 2794,1834.5 2810.7,1834.5 2827.4,1834.5 2844.1,1834.5 2860.8,1834.5 2877.5,1834.5 2894.2,1834.5 2910.9,1834.5 2927.6,1834.5 2944.3,1834.5 2961,1834.5"/>
<polyline points="2109.3,2263.2 2126,2248.3 2142.7,2228.4 2159.4,2201.1 2176.1,2167.7 2192.8,2132.8 2209.5,2093 2226.2,2052.3 2242.9,2012.6 2259.6,1973.7 2276.3,1940.9 2293,1914.8 2309.7,1896.3 2326.4,1882.9 2343.1,1873.5 2359.8,1866.9 2376.5,1862.4 2393.2,1859.3 2409.9,1857.2 2426.6,1855.8 2443.3,1854.9 2460,1854.3 2476.7,1853.8 2493.4,1853.6 2510.1,1853.4 2526.8,1853.2 2543.5,1853.2 2560.2,1853.1 2576.9,1853.1 2593.6,1853 2610.3,1853 2627,1853 2643.7,1853 2660.4,1853 2677.1,1853 2693.8,1853 2710.5,1853 2727.2,1853 2743.9,1853 2760.6,1853 2777.3,1853 2794,1853 2810.7,1853 2827.4,1853 2844.1,1853 2860.8,1853 2877.5,1853 2894.2,1853 2910.9,1853 2927.6,1853 2944.3,1853 2961,1853"/>
<polyline points="2109.3,2260.6 2126,2243.3 2142.7,2220.8 2159.4,2190.1 2176.1,2152.8 2192.8,2116.8 2209.5,2075.5 2226.2,2034.4 2242.9,1996.6 2259.6,1962.3 2276.3,1934.3 2293,1912.4 2309.7,1897 2326.4,1886 2343.1,1878.2 2359.8,1872.9 2376.5,1869.2 2393.2,1866.8 2409.9,1865.1 2426.6,1864 2443.3,1863.2 2460,1862.7 2476.7,1862.3 2493.4,1862.1 2510.1,1862 2526.8,1861.9 2543.5,1861.8 2560.2,1861.8 2576.9,1861.7 2593.6,1861.7 2610.3,1861.7 2627,1861.7 2643.7,1861.7 2660.4,1861.7 2677.1,1861.7 2693.8,1861.7 2710.5,1861.7 2727.2,1861.7 2743.9,1861.7 2760.6,1861.7 2777.3,1861.7 2794,1861.7 2810.7,1861.7 2827.4,1861.7 2844.1,1861.7 2860.8,1861.7 2877.5,1861.7 2894.2,1861.7 2910.9,1861.7 2927.6,1861.7 2944.3,1861.7 2961,1861.7"/>
<polyline points="2109.3,2264.3 2126,2250.6 2142.7,2232 2159.4,2206.6 2176.1,2175.9 2192.8,2143 2209.5,2106.7 2226.2,2070.7 2242.9,2035.7 2259.6,2000.1 2276.3,1969.9 2293,1945.6 2309.7,1929.1 2326.4,1917.2 2343.1,1908.8 2359.8,1903 2376.5,1899.1 2393.2,1896.4 2409.9,1894.6 2426.6,1893.4 2443.3,1892.6 2460,1892 2476.7,1891.7 2493.4,1891.4 2510.1,1891.3 2526.8,1891.2 2543.5,1891.1 2560.2,1891 2576.9,1891 2593.6,1891 2610.3,1891 2627,1891 2643.7,1891 2660.4,1890.9 2677.1,1890.9 2693.8,1890.9 2710.5,1890.9 2727.2,1890.9 2743.9,1890.9 2760.6,1890.9 2777.3,1890.9 2794,1890.9 2810.7,1890.9 2827.4,1890.9 2844.1,1890.9 2860.8,1890.9 2877.5,1890.9 2894.2,1890.9 2910.9,1890.9 2927.6,1890.9 2944.3,1890.9 2961,1890.9"/>
<polyline points="2109.3,2264.4 2126,2250.7 2142.7,2232.2 2159.4,2206.9 2176.1,2176.4 2192.8,2143.8 2209.5,2107.9 2226.2,2072.5 2242.9,2038.3 2259.6,2003.3 2276.3,1973.8 2293,1949.9 2309.7,1933.8 2326.4,1922.2 2343.1,1914 2359.8,1908.4 2376.5,1904.6 2393.2,1902 2409.9,1900.2 2426.6,1899.1 2443.3,1898.3 2460,1897.8 2476.7,1897.4 2493.4,1897.2 2510.1,1897 2526.8,1896.9 2543.5,1896.9 2560.2,1896.8 2576.9,1896.8 2593.6,1896.8 2610.3,1896.8 2627,1896.7 2643.7,1896.7 2660.4,1896.7 2677.1,1896.7 2693.8,1896.7 2710.5,1896.7 2727.2,1896.7 2743.9,1896.7 2760.6,1896.7 2777.3,1896.7 2794,1896.7 2810.7,1896.7 2827.4,1896.7 2844.1,1896.7 2860.8,1896.7 2877.5,1896.7 2894.2,1896.7 2910.9,1896.7 2927.6,1896.7 2944.3,1896.7 2961,1896.7"/>
<polyline points="2109.3,2264.1 2126,2250.1 2142.7,2231.3 2159.4,2205.7 2176.1,2175 2192.8,2142.7 2209.5,2107.5 2226.2,2073.3 2242.9,2041 2259.6,2008.3 2276.3,1980.8 2293,1958.6 2309.7,1943.8 2326.4,1933.3 2343.1,1925.9 2359.8,1920.8 2376.5,1917.4 2393.2,1915 2409.9,1913.5 2426.6,1912.4 2443.3,1911.7 2460,1911.3 2476.7,1911 2493.4,1910.8 2510.1,1910.6 2526.8,1910.5 2543.5,1910.5 2560.2,1910.5 2576.9,1910.4 2593.6,1910.4 2610.3,1910.4 2627,1910.4 2643.7,1910.4 2660.4,1910.4 2677.1,1910.4 2693.8,1910.4 2710.5,1910.4 2727.2,1910.4 2743.9,1910.4 2760.6,1910.4 2777.3,1910.4 2794,1910.4 2810.7,1910.4 2827.4,1910.4 2844.1,1910.4 2860.8,1910.4 2877.5,1910.4 2894.2,1910.4 2910.9,1910.4 2927.6,1910.4 2944.3,1910.4 2961,1910.4"/>
<polyline points="2109.3,2264.2 2126,2250.3 2142.7,2231.7 2159.4,2206.2 2176.1,2175.7 2192.8,2143.5 2209.5,2108.4 2226.2,2074.4 2242.9,2042.2 2259.6,2009.5 2276.3,1981.9 2293,1959.6 2309.7,1944.8 2326.4,1934.2 2343.1,1926.8 2359.8,1921.7 2376.5,1918.3 2393.2,1916 2409.9,1914.4 2426.6,1913.4 2443.3,1912.7 2460,1912.2 2476.7,1911.9 2493.4,1911.7 2510.1,1911.6 2526.8,1911.5 2543.5,1911.4 2560.2,1911.4 2576.9,1911.3 2593.6,1911.3 2610.3,1911.3 2627,1911.3 2643.7,1911.3 2660.4,1911.3 2677.1,1911.3 2693.8,1911.3 2710.5,1911.3 2727.2,1911.3 2743.9,1911.3 2760.6,1911.3 2777.3,1911.3 2794,1911.3 2810.7,1911.3 2827.4,1911.3 2844.1,1911.3 2860.8,1911.3 2877.5,1911.3 2894.2,1911.3 2910.9,1911.3 2927.6,1911.3 2944.3,1911.3 2961,1911.3"/>
<polyline points="2109.3,2268.2 2126,2258 2142.7,2243.5 2159.4,2223.7 2176.1,2200.3 2192.8,2171.8 2209.5,2142.5 2226.2,2114.9 2242.9,2086.9 2259.6,2054.1 2276.3,2025.3 2293,2001.4 2309.7,1986.2 2326.4,1975.2 2343.1,1967.6 2359.8,1962.3 2376.5,1958.8 2393.2,1956.4 2409.9,1954.8 2426.6,1953.8 2443.3,1953.1 2460,1952.6 2476.7,1952.3 2493.4,1952.1 2510.1,1952 2526.8,1951.9 2543.5,1951.8 2560.2,1951.8 2576.9,1951.8 2593.6,1951.7 2610.3,1951.7 2627,1951.7 2643.7,1951.7 2660.4,1951.7 2677.1,1951.7 2693.8,1951.7 2710.5,1951.7 2727.2,1951.7 2743.9,1951.7 2760.6,1951.7 2777.3,1951.7 2794,1951.7 2810.7,1951.7 2827.4,1951.7 2844.1,1951.7 2860.8,1951.7 2877.5,1951.7 2894.2,1951.7 2910.9,1951.7 2927.6,1951.7 2944.3,1951.7 2961,1951.7"/>
<polyline points="2109.3,2268.5 2126,2258.5 2142.7,2244.3 2159.4,2224.9 2176.1,2202.1 2192.8,2173.8 2209.5,2145 2226.2,2117.9 2242.9,2090.4 2259.6,2057.6 2276.3,2028.9 2293,2004.9 2309.7,1989.7 2326.4,1978.8 2343.1,1971.2 2359.8,1966 2376.5,1962.4 2393.2,1960.1 2409.9,1958.5 2426.6,1957.4 2443.3,1956.8 2460,1956.3 2476.7,1956 2493.4,1955.8 2510.1,1955.7 2526.8,1955.6 2543.5,1955.5 2560.2,1955.5 2576.9,1955.5 2593.6,1955.4 2610.3,1955.4 2627,1955.4 2643.7,1955.4 2660.4,1955.4 2677.1,1955.4 2693.8,1955.4 2710.5,1955.4 2727.2,1955.4 2743.9,1955.4 2760.6,1955.4 2777.3,1955.4 2794,1955.4 2810.7,1955.4 2827.4,1955.4 2844.1,1955.4 2860.8,1955.4 2877.5,1955.4 2894.2,1955.4 2910.9,1955.4 2927.6,1955.4 2944.3,1955.4 2961,1955.4"/>
</g>
<polyline class="k" points="2109.3,2255.1 2126,2244.5 2142.7,2236.6 2159.4,2215.8 2176.1,2189.1 2192.8,2082.4 2209.5,2027.4 2226.2,1974 2242.9,1956 2259.6,1945 2276.3,1929.3 2293,1903.8 2309.7,1899.4 2326.4,1870.8 2343.1,1867.2 2359.8,1863.7 2376.5,1859 2393.2,1857 2409.9,1854.3 2426.6,1853.1 2443.3,1852.3 2460,1851.5 2476.7,1850.8 2493.4,1850.4 2510.1,1850.2 2526.8,1850 2543.5,1849.8 2560.2,1849.6 2576.9,1849.5 2593.6,1849.4 2610.3,1849.3 2627,1849.3 2643.7,1849.2 2660.4,1849.2 2677.1,1849.1 2693.8,1849.1 2710.5,1849.1 2727.2,1849.1 2743.9,1849.1 2760.6,1849.1 2777.3,1849.1 2794,1849.1 2810.7,1849.1 2827.4,1849.1 2844.1,1849.1 2860.8,1849 2877.5,1849 2894.2,1849 2910.9,1849 2927.6,1849 2944.3,1849 2961,1849"/>
</svg>
<g style="filter:grayscale(1)">
<text class="st" x="1511.1" y="58" text-anchor="middle" textLength="1108.6" lengthAdjust="spacingAndGlyphs">Adopters Cumulative vs Observed Data</text>
<text class="tt" x="621.5" y="118.7" text-anchor="middle" textLength="261" lengthAdjust="spacingAndGlyphs">product=P0</text>
<text class="tk" x="142.6" y="798.1" text-anchor="end" textLength="24.1" lengthAdjust="spacingAndGlyphs">0</text>
<text class="tk" x="142.6" y="645.1" text-anchor="end" textLength="120.5" lengthAdjust="spacingAndGlyphs">20000</text>
<text class="tk" x="142.6" y="492.1" text-anchor="end" textLength="120.5" lengthAdjust="spacingAndGlyphs">40000</text>
<text class="tk" x="142.6" y="339.1" text-anchor="end" textLength="120.5" lengthAdjust="spacingAndGlyphs">60000</text>
<text class="tk" x="142.6" y="186.1" text-anchor="end" textLength="120.5" lengthAdjust="spacingAndGlyphs">80000</text>
<text class="tt" x="1578.5" y="118.7" text-anchor="middle" textLength="261" lengthAdjust="spacingAndGlyphs">product=P1</text>
<text class="tt" x="2535.2" y="118.7" text-anchor="middle" textLength="261" lengthAdjust="spacingAndGlyphs">product=P2</text>
<text class="tt" x="621.5" y="864.7" text-anchor="middle" textLength="261" lengthAdjust="spacingAndGlyphs">product=P3</text>
<text class="tk" x="142.6" y="1544.1" text-anchor="end" textLength="24.1" lengthAdjust="spacingAndGlyphs">0</text>
<text class="tk" x="142.6" y="1391.1" text-anchor="end" textLength="120.5" lengthAdjust="spacingAndGlyphs">20000</text>
<text class="tk" x="142.6" y="1238.1" text-anchor="end" textLength="120.5" lengthAdjust="spacingAndGlyphs">40000</text>
<text class="tk" x="142.6" y="1085.1" text-anchor="end" textLength="120.5" lengthAdjust="spacingAndGlyphs">60000</text>
<text class="tk" x="142.6" y="932.1" text-anchor="end" textLength="120.5" lengthAdjust="spacingAndGlyphs">80000</text>
<text class="tt" x="1578.5" y="864.7" text-anchor="middle" textLength="261" lengthAdjust="spacingAndGlyphs">product=P4</text>
<text class="tt" x="2535.2" y="864.7" text-anchor="middle" textLength="261" lengthAdjust="spacingAndGlyphs">product=P5</text>
<text class="tt" x="621.5" y="1609.7" text-anchor="middle" textLength="261" lengthAdjust="spacingAndGlyphs">product=P6</text>
<text class="tk" x="142.6" y="2289.1" text-anchor="end" textLength="24.1" lengthAdjust="spacingAndGlyphs">0</text>
<text class="tk" x="142.6" y="2136.1" text-anchor="end" textLength="120.5" lengthAdjust="spacingAndGlyphs">20000</text>
<text class="tk" x="142.6" y="1983.1" text-anchor="end" textLength="120.5" lengthAdjust="spacingAndGlyphs">40000</text>
<text class="tk" x="142.6" y="1830.1" text-anchor="end" textLength="120.5" lengthAdjust="spacingAndGlyphs">60000</text>
<text class="tk" x="142.6" y="1677.1" text-anchor="end" textLength="120.5" lengthAdjust="spacingAndGlyphs">80000</text>
<text class="tk" x="196" y="2344" text-anchor="middle" textLength="24.1" lengthAdjust="spacingAndGlyphs">0</text>
<text class="tk" x="363" y="2344" text-anchor="middle" textLength="48.2" lengthAdjust="spacingAndGlyphs">10</text>
<text class="tk" x="530" y="2344" text-anchor="middle" textLength="48.2" lengthAdjust="spacingAndGlyphs">20</text>
<text class="tk" x="697" y="2344" text-anchor="middle" textLength="48.2" lengthAdjust="spacingAndGlyphs">30</text>
<text class="tk" x="864" y="2344" text-anchor="middle" textLength="48.2" lengthAdjust="spacingAndGlyphs">40</text>
<text class="tk" x="1031" y="2344" text-anchor="middle" textLength="48.2" lengthAdjust="spacingAndGlyphs">50</text>
<text class="lb" x="622.5" y="2394.3" text-anchor="middle">T</text>
<text class="tt" x="1578.5" y="1609.7" text-anchor="middle" textLength="261" lengthAdjust="spacingAndGlyphs">product=P7</text>
<text class="tk" x="1153" y="2344" text-anchor="middle" textLength="24.1" lengthAdjust="spacingAndGlyphs">0</text>
<text class="tk" x="1320" y="2344" text-anchor="middle" textLength="48.2" lengthAdjust="spacingAndGlyphs">10</text>
<text class="tk" x="1487" y="2344" text-anchor="middle" textLength="48.2" lengthAdjust="spacingAndGlyphs">20</text>
<text class="tk" x="1654" y="2344" text-anchor="middle" textLength="48.2" lengthAdjust="spacingAndGlyphs">30</text>
<text class="tk" x="1821" y="2344" text-anchor="middle" textLength="48.2" lengthAdjust="spacingAndGlyphs">40</text>
<text class="tk" x="1988" y="2344" text-anchor="middle" textLength="48.2" lengthAdjust="spacingAndGlyphs">50</text>
<text class="lb" x="1579.5" y="2394.3" text-anchor="middle">T</text>
<text class="tt" x="2535.2" y="1609.7" text-anchor="middle" textLength="261" lengthAdjust="spacingAndGlyphs">product=P8</text>
<text class="tk" x="2109.3" y="2344" text-anchor="middle" textLength="24.1" lengthAdjust="spacingAndGlyphs">0</text>
<text class="tk" x="2276.3" y="2344" text-anchor="middle" textLength="48.2" lengthAdjust="spacingAndGlyphs">10</text>
<text class="tk" x="2443.3" y="2344" text-anchor="middle" textLength="48.2" lengthAdjust="spacingAndGlyphs">20</text>
<text class="tk" x="2610.3" y="2344" text-anchor="middle" textLength="48.2" lengthAdjust="spacingAndGlyphs">30</text>
<text class="tk" x="2777.3" y="2344" text-anchor="middle" textLength="48.2" lengthAdjust="spacingAndGlyphs">40</text>
<text class="tk" x="2944.3" y="2344" text-anchor="middle" textLength="48.2" lengthAdjust="spacingAndGlyphs">50</text>
<text class="lb" x="2536.2" y="2394.3" text-anchor="middle">T</text>
</g>
</svg>
</body>
</html>
